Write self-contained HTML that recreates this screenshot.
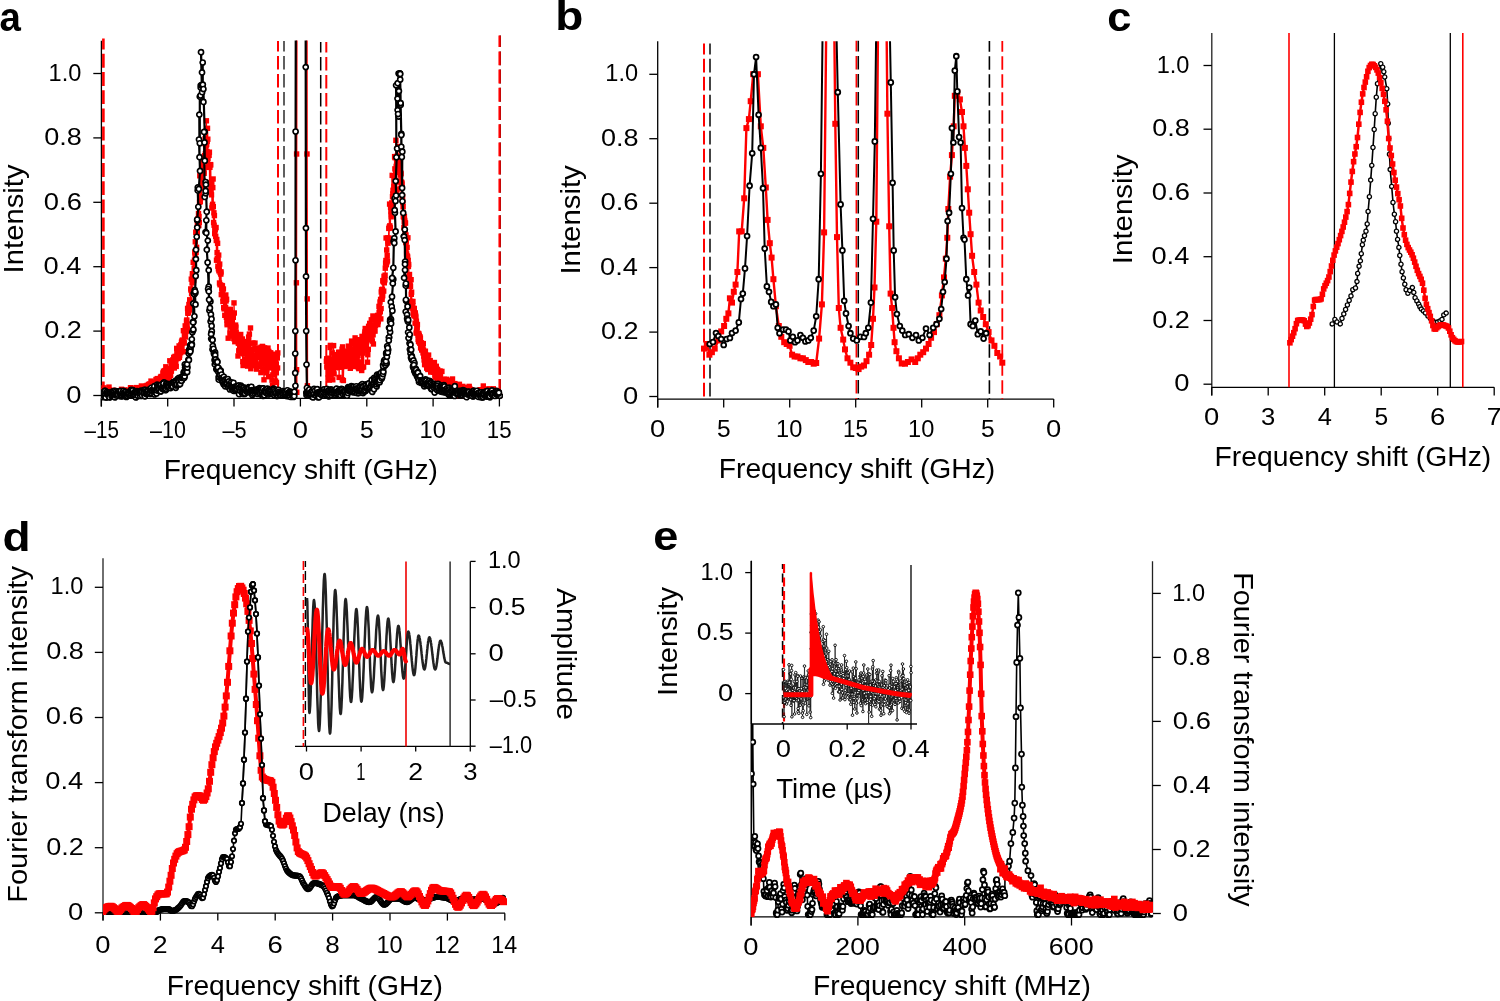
<!DOCTYPE html>
<html><head><meta charset="utf-8"><style>
html,body{margin:0;padding:0;background:#fff;}
svg{display:block;will-change:transform;}
text{font-family:"Liberation Sans", sans-serif;}
</style></head><body>
<svg width="1500" height="1001" viewBox="0 0 1500 1001">
<defs><clipPath id="clipA"><rect x="101" y="40.5" width="402" height="370"/></clipPath>
<marker id="mcA" markerUnits="userSpaceOnUse" markerWidth="8.399999999999999" markerHeight="8.399999999999999" refX="4.199999999999999" refY="4.199999999999999" overflow="visible"><circle cx="4.199999999999999" cy="4.199999999999999" r="2.55" fill="#fff" stroke="#000" stroke-width="1.65"/></marker>
<marker id="msA" markerUnits="userSpaceOnUse" markerWidth="5.4" markerHeight="5.4" refX="2.7" refY="2.7" overflow="visible"><rect width="5.4" height="5.4" fill="#f00"/></marker>
<clipPath id="clipB"><rect x="657" y="41.2" width="400" height="365"/></clipPath>
<marker id="mcB" markerUnits="userSpaceOnUse" markerWidth="8.5" markerHeight="8.5" refX="4.25" refY="4.25" overflow="visible"><circle cx="4.25" cy="4.25" r="2.45" fill="#fff" stroke="#000" stroke-width="1.8"/></marker>
<marker id="msB" markerUnits="userSpaceOnUse" markerWidth="6.0" markerHeight="6.0" refX="3.0" refY="3.0" overflow="visible"><rect width="6.0" height="6.0" fill="#f00"/></marker>
<clipPath id="clipC"><rect x="1211" y="33" width="285" height="355"/></clipPath>
<marker id="mcC" markerUnits="userSpaceOnUse" markerWidth="6.800000000000001" markerHeight="6.800000000000001" refX="3.4000000000000004" refY="3.4000000000000004" overflow="visible"><circle cx="3.4000000000000004" cy="3.4000000000000004" r="2.1" fill="#fff" stroke="#000" stroke-width="1.3"/></marker>
<marker id="msC" markerUnits="userSpaceOnUse" markerWidth="5.6" markerHeight="5.6" refX="2.8" refY="2.8" overflow="visible"><rect width="5.6" height="5.6" fill="#f00"/></marker>
<clipPath id="clipD"><rect x="103" y="558" width="404" height="357"/></clipPath>
<marker id="mcD" markerUnits="userSpaceOnUse" markerWidth="8.0" markerHeight="8.0" refX="4.0" refY="4.0" overflow="visible"><circle cx="4.0" cy="4.0" r="2.2" fill="#fff" stroke="#000" stroke-width="1.8"/></marker>
<marker id="msD" markerUnits="userSpaceOnUse" markerWidth="7.0" markerHeight="7.0" refX="3.5" refY="3.5" overflow="visible"><rect width="7.0" height="7.0" fill="#f00"/></marker>
<clipPath id="clipE"><rect x="751" y="561" width="402" height="362"/></clipPath>
<marker id="mcE" markerUnits="userSpaceOnUse" markerWidth="8.5" markerHeight="8.5" refX="4.25" refY="4.25" overflow="visible"><circle cx="4.25" cy="4.25" r="2.5" fill="#fff" stroke="#000" stroke-width="1.75"/></marker>
<marker id="msE" markerUnits="userSpaceOnUse" markerWidth="6.6" markerHeight="6.6" refX="3.3" refY="3.3" overflow="visible"><rect width="6.6" height="6.6" fill="#f00"/></marker>
<clipPath id="clipEI"><rect x="752" y="556" width="165" height="168"/></clipPath>
<marker id="mcEI" markerUnits="userSpaceOnUse" markerWidth="4.4" markerHeight="4.4" refX="2.2" refY="2.2" overflow="visible"><circle cx="2.2" cy="2.2" r="1.3" fill="#fff" stroke="#000" stroke-width="0.9"/></marker></defs>
<rect width="1500" height="1001" fill="#fff"/>
<text x="-0.39" y="30.5" font-size="40.5" font-weight="bold" textLength="21.37" lengthAdjust="spacingAndGlyphs">a</text>
<text x="555.28" y="30.2" font-size="40.5" font-weight="bold" textLength="28.10" lengthAdjust="spacingAndGlyphs">b</text>
<text x="1107.19" y="30.5" font-size="40.5" font-weight="bold" textLength="24.18" lengthAdjust="spacingAndGlyphs">c</text>
<text x="2.51" y="550.6" font-size="40.5" font-weight="bold" textLength="28.10" lengthAdjust="spacingAndGlyphs">d</text>
<text x="653.33" y="549.9" font-size="40.5" font-weight="bold" textLength="25.09" lengthAdjust="spacingAndGlyphs">e</text>
<line x1="101.4" y1="40.8" x2="101.4" y2="406.5" stroke="#000" stroke-width="1.3" />
<line x1="101.4" y1="398.3" x2="500" y2="398.3" stroke="#000" stroke-width="1.3" />
<line x1="93.3" y1="395.5" x2="101.4" y2="395.5" stroke="#000" stroke-width="1.3" />
<text x="66.24" y="402.8" font-size="23.5" textLength="15.22" lengthAdjust="spacingAndGlyphs">0</text>
<line x1="93.3" y1="331.1" x2="101.4" y2="331.1" stroke="#000" stroke-width="1.3" />
<text x="44.25" y="338.4" font-size="23.5" textLength="37.59" lengthAdjust="spacingAndGlyphs">0.2</text>
<line x1="93.3" y1="266.7" x2="101.4" y2="266.7" stroke="#000" stroke-width="1.3" />
<text x="43.44" y="274.0" font-size="23.5" textLength="37.83" lengthAdjust="spacingAndGlyphs">0.4</text>
<line x1="93.3" y1="202.3" x2="101.4" y2="202.3" stroke="#000" stroke-width="1.3" />
<text x="43.84" y="209.6" font-size="23.5" textLength="38.02" lengthAdjust="spacingAndGlyphs">0.6</text>
<line x1="93.3" y1="137.9" x2="101.4" y2="137.9" stroke="#000" stroke-width="1.3" />
<text x="44.25" y="145.2" font-size="23.5" textLength="37.59" lengthAdjust="spacingAndGlyphs">0.8</text>
<line x1="93.3" y1="73.5" x2="101.4" y2="73.5" stroke="#000" stroke-width="1.3" />
<text x="48.64" y="80.8" font-size="23.5" textLength="32.78" lengthAdjust="spacingAndGlyphs">1.0</text>
<line x1="101.3" y1="398.3" x2="101.3" y2="406.5" stroke="#000" stroke-width="1.3" />
<text x="84.55" y="437.5" font-size="23.5" textLength="34.44" lengthAdjust="spacingAndGlyphs">–15</text>
<line x1="167.7" y1="398.3" x2="167.7" y2="406.5" stroke="#000" stroke-width="1.3" />
<text x="150.10" y="437.5" font-size="23.5" textLength="35.85" lengthAdjust="spacingAndGlyphs">–10</text>
<line x1="234" y1="398.3" x2="234" y2="406.5" stroke="#000" stroke-width="1.3" />
<text x="222.50" y="437.5" font-size="23.5" textLength="24.15" lengthAdjust="spacingAndGlyphs">–5</text>
<line x1="300.4" y1="398.3" x2="300.4" y2="406.5" stroke="#000" stroke-width="1.3" />
<text x="292.69" y="437.5" font-size="23.5" textLength="15.22" lengthAdjust="spacingAndGlyphs">0</text>
<line x1="366.8" y1="398.3" x2="366.8" y2="406.5" stroke="#000" stroke-width="1.3" />
<text x="359.95" y="437.5" font-size="23.5" textLength="13.66" lengthAdjust="spacingAndGlyphs">5</text>
<line x1="433.1" y1="398.3" x2="433.1" y2="406.5" stroke="#000" stroke-width="1.3" />
<text x="419.54" y="437.5" font-size="23.5" textLength="26.25" lengthAdjust="spacingAndGlyphs">10</text>
<line x1="499.4" y1="398.3" x2="499.4" y2="406.5" stroke="#000" stroke-width="1.3" />
<text x="486.79" y="437.5" font-size="23.5" textLength="24.74" lengthAdjust="spacingAndGlyphs">15</text>
<text x="300.8" y="479.1" font-size="28" text-anchor="middle" textLength="274.3" lengthAdjust="spacingAndGlyphs" fill="#000">Frequency shift (GHz)</text>
<text x="23.1" y="218.9" font-size="28" text-anchor="middle" transform="rotate(-90 23.1 218.9)" textLength="109" lengthAdjust="spacingAndGlyphs" fill="#000">Intensity</text>
<line x1="657.7" y1="41.2" x2="657.7" y2="407.6" stroke="#000" stroke-width="1.3" />
<line x1="657.7" y1="399.1" x2="1053.7" y2="399.1" stroke="#000" stroke-width="1.3" />
<line x1="649.3" y1="396.5" x2="657.7" y2="396.5" stroke="#000" stroke-width="1.3" />
<text x="622.94" y="403.5" font-size="23.5" textLength="15.22" lengthAdjust="spacingAndGlyphs">0</text>
<line x1="649.3" y1="332.1" x2="657.7" y2="332.1" stroke="#000" stroke-width="1.3" />
<text x="600.95" y="339.1" font-size="23.5" textLength="37.59" lengthAdjust="spacingAndGlyphs">0.2</text>
<line x1="649.3" y1="267.6" x2="657.7" y2="267.6" stroke="#000" stroke-width="1.3" />
<text x="600.14" y="274.6" font-size="23.5" textLength="37.83" lengthAdjust="spacingAndGlyphs">0.4</text>
<line x1="649.3" y1="203.2" x2="657.7" y2="203.2" stroke="#000" stroke-width="1.3" />
<text x="600.54" y="210.2" font-size="23.5" textLength="38.02" lengthAdjust="spacingAndGlyphs">0.6</text>
<line x1="649.3" y1="138.7" x2="657.7" y2="138.7" stroke="#000" stroke-width="1.3" />
<text x="600.95" y="145.7" font-size="23.5" textLength="37.59" lengthAdjust="spacingAndGlyphs">0.8</text>
<line x1="649.3" y1="74.3" x2="657.7" y2="74.3" stroke="#000" stroke-width="1.3" />
<text x="605.34" y="81.3" font-size="23.5" textLength="32.78" lengthAdjust="spacingAndGlyphs">1.0</text>
<line x1="657.7" y1="399.1" x2="657.7" y2="407.6" stroke="#000" stroke-width="1.3" />
<text x="649.99" y="436.7" font-size="23.5" textLength="15.22" lengthAdjust="spacingAndGlyphs">0</text>
<line x1="723.7" y1="399.1" x2="723.7" y2="407.6" stroke="#000" stroke-width="1.3" />
<text x="716.90" y="436.7" font-size="23.5" textLength="13.66" lengthAdjust="spacingAndGlyphs">5</text>
<line x1="789.7" y1="399.1" x2="789.7" y2="407.6" stroke="#000" stroke-width="1.3" />
<text x="776.14" y="436.7" font-size="23.5" textLength="26.25" lengthAdjust="spacingAndGlyphs">10</text>
<line x1="855.7" y1="399.1" x2="855.7" y2="407.6" stroke="#000" stroke-width="1.3" />
<text x="843.04" y="436.7" font-size="23.5" textLength="24.74" lengthAdjust="spacingAndGlyphs">15</text>
<line x1="921.7" y1="399.1" x2="921.7" y2="407.6" stroke="#000" stroke-width="1.3" />
<text x="908.14" y="436.7" font-size="23.5" textLength="26.25" lengthAdjust="spacingAndGlyphs">10</text>
<line x1="987.7" y1="399.1" x2="987.7" y2="407.6" stroke="#000" stroke-width="1.3" />
<text x="980.90" y="436.7" font-size="23.5" textLength="13.66" lengthAdjust="spacingAndGlyphs">5</text>
<line x1="1053.7" y1="399.1" x2="1053.7" y2="407.6" stroke="#000" stroke-width="1.3" />
<text x="1045.99" y="436.7" font-size="23.5" textLength="15.22" lengthAdjust="spacingAndGlyphs">0</text>
<text x="857" y="478.2" font-size="28" text-anchor="middle" textLength="276.6" lengthAdjust="spacingAndGlyphs" fill="#000">Frequency shift (GHz)</text>
<text x="580" y="219.9" font-size="28" text-anchor="middle" transform="rotate(-90 580 219.9)" textLength="109.4" lengthAdjust="spacingAndGlyphs" fill="#000">Intensity</text>
<line x1="1211.8" y1="33" x2="1211.8" y2="395.5" stroke="#222" stroke-width="1.3" />
<line x1="1211.8" y1="387.3" x2="1494.2" y2="387.3" stroke="#000" stroke-width="1.3" />
<line x1="1203.5" y1="384.2" x2="1211.8" y2="384.2" stroke="#000" stroke-width="1.3" />
<text x="1174.24" y="391.3" font-size="23.5" textLength="15.22" lengthAdjust="spacingAndGlyphs">0</text>
<line x1="1203.5" y1="320.5" x2="1211.8" y2="320.5" stroke="#000" stroke-width="1.3" />
<text x="1152.25" y="327.6" font-size="23.5" textLength="37.59" lengthAdjust="spacingAndGlyphs">0.2</text>
<line x1="1203.5" y1="256.7" x2="1211.8" y2="256.7" stroke="#000" stroke-width="1.3" />
<text x="1151.44" y="263.8" font-size="23.5" textLength="37.83" lengthAdjust="spacingAndGlyphs">0.4</text>
<line x1="1203.5" y1="193" x2="1211.8" y2="193" stroke="#000" stroke-width="1.3" />
<text x="1151.84" y="200.1" font-size="23.5" textLength="38.02" lengthAdjust="spacingAndGlyphs">0.6</text>
<line x1="1203.5" y1="129.2" x2="1211.8" y2="129.2" stroke="#000" stroke-width="1.3" />
<text x="1152.25" y="136.3" font-size="23.5" textLength="37.59" lengthAdjust="spacingAndGlyphs">0.8</text>
<line x1="1203.5" y1="65.5" x2="1211.8" y2="65.5" stroke="#000" stroke-width="1.3" />
<text x="1156.64" y="72.6" font-size="23.5" textLength="32.78" lengthAdjust="spacingAndGlyphs">1.0</text>
<line x1="1211.7" y1="387.3" x2="1211.7" y2="395.5" stroke="#000" stroke-width="1.3" />
<text x="1203.99" y="424.5" font-size="23.5" textLength="15.22" lengthAdjust="spacingAndGlyphs">0</text>
<line x1="1268.2" y1="387.3" x2="1268.2" y2="395.5" stroke="#000" stroke-width="1.3" />
<text x="1261.11" y="424.5" font-size="23.5" textLength="14.26" lengthAdjust="spacingAndGlyphs">3</text>
<line x1="1324.7" y1="387.3" x2="1324.7" y2="395.5" stroke="#000" stroke-width="1.3" />
<text x="1317.66" y="424.5" font-size="23.5" textLength="14.16" lengthAdjust="spacingAndGlyphs">4</text>
<line x1="1381.2" y1="387.3" x2="1381.2" y2="395.5" stroke="#000" stroke-width="1.3" />
<text x="1374.40" y="424.5" font-size="23.5" textLength="13.66" lengthAdjust="spacingAndGlyphs">5</text>
<line x1="1437.7" y1="387.3" x2="1437.7" y2="395.5" stroke="#000" stroke-width="1.3" />
<text x="1429.93" y="424.5" font-size="23.5" textLength="15.32" lengthAdjust="spacingAndGlyphs">6</text>
<line x1="1494.2" y1="387.3" x2="1494.2" y2="395.5" stroke="#000" stroke-width="1.3" />
<text x="1486.80" y="424.5" font-size="23.5" textLength="14.59" lengthAdjust="spacingAndGlyphs">7</text>
<text x="1352.9" y="465.5" font-size="28" text-anchor="middle" textLength="276.7" lengthAdjust="spacingAndGlyphs" fill="#000">Frequency shift (GHz)</text>
<text x="1132" y="209.3" font-size="28" text-anchor="middle" transform="rotate(-90 1132 209.3)" textLength="109.8" lengthAdjust="spacingAndGlyphs" fill="#000">Intensity</text>
<line x1="103" y1="558.3" x2="103" y2="920.6" stroke="#222" stroke-width="1.3" />
<line x1="103" y1="913.2" x2="505" y2="913.2" stroke="#000" stroke-width="1.3" />
<line x1="94.8" y1="912.8" x2="103" y2="912.8" stroke="#000" stroke-width="1.3" />
<text x="68.14" y="919.6" font-size="23.5" textLength="15.22" lengthAdjust="spacingAndGlyphs">0</text>
<line x1="94.8" y1="847.7" x2="103" y2="847.7" stroke="#000" stroke-width="1.3" />
<text x="46.15" y="854.5" font-size="23.5" textLength="37.59" lengthAdjust="spacingAndGlyphs">0.2</text>
<line x1="94.8" y1="782.6" x2="103" y2="782.6" stroke="#000" stroke-width="1.3" />
<text x="45.34" y="789.4" font-size="23.5" textLength="37.83" lengthAdjust="spacingAndGlyphs">0.4</text>
<line x1="94.8" y1="717.5" x2="103" y2="717.5" stroke="#000" stroke-width="1.3" />
<text x="45.74" y="724.3" font-size="23.5" textLength="38.02" lengthAdjust="spacingAndGlyphs">0.6</text>
<line x1="94.8" y1="652.4" x2="103" y2="652.4" stroke="#000" stroke-width="1.3" />
<text x="46.15" y="659.2" font-size="23.5" textLength="37.59" lengthAdjust="spacingAndGlyphs">0.8</text>
<line x1="94.8" y1="587.3" x2="103" y2="587.3" stroke="#000" stroke-width="1.3" />
<text x="50.54" y="594.1" font-size="23.5" textLength="32.78" lengthAdjust="spacingAndGlyphs">1.0</text>
<line x1="103" y1="913.2" x2="103" y2="920.6" stroke="#000" stroke-width="1.3" />
<text x="95.29" y="952.6" font-size="23.5" textLength="15.22" lengthAdjust="spacingAndGlyphs">0</text>
<line x1="160.4" y1="913.2" x2="160.4" y2="920.6" stroke="#000" stroke-width="1.3" />
<text x="152.88" y="952.6" font-size="23.5" textLength="14.83" lengthAdjust="spacingAndGlyphs">2</text>
<line x1="217.8" y1="913.2" x2="217.8" y2="920.6" stroke="#000" stroke-width="1.3" />
<text x="210.76" y="952.6" font-size="23.5" textLength="14.16" lengthAdjust="spacingAndGlyphs">4</text>
<line x1="275.2" y1="913.2" x2="275.2" y2="920.6" stroke="#000" stroke-width="1.3" />
<text x="267.43" y="952.6" font-size="23.5" textLength="15.32" lengthAdjust="spacingAndGlyphs">6</text>
<line x1="332.6" y1="913.2" x2="332.6" y2="920.6" stroke="#000" stroke-width="1.3" />
<text x="325.39" y="952.6" font-size="23.5" textLength="14.50" lengthAdjust="spacingAndGlyphs">8</text>
<line x1="390" y1="913.2" x2="390" y2="920.6" stroke="#000" stroke-width="1.3" />
<text x="376.44" y="952.6" font-size="23.5" textLength="26.25" lengthAdjust="spacingAndGlyphs">10</text>
<line x1="447.4" y1="913.2" x2="447.4" y2="920.6" stroke="#000" stroke-width="1.3" />
<text x="434.34" y="952.6" font-size="23.5" textLength="25.52" lengthAdjust="spacingAndGlyphs">12</text>
<line x1="504.8" y1="913.2" x2="504.8" y2="920.6" stroke="#000" stroke-width="1.3" />
<text x="491.32" y="952.6" font-size="23.5" textLength="25.87" lengthAdjust="spacingAndGlyphs">14</text>
<text x="304.8" y="994.7" font-size="28" text-anchor="middle" textLength="276.1" lengthAdjust="spacingAndGlyphs" fill="#000">Frequency shift (GHz)</text>
<text x="27" y="734.4" font-size="28" text-anchor="middle" transform="rotate(-90 27 734.4)" textLength="336.6" lengthAdjust="spacingAndGlyphs" fill="#000">Fourier transform intensity</text>
<line x1="751.1" y1="561" x2="751.1" y2="925.5" stroke="#222" stroke-width="1.3" />
<line x1="1152.5" y1="561.2" x2="1152.5" y2="916.9" stroke="#222" stroke-width="1.3" />
<line x1="751.1" y1="916.9" x2="1152.5" y2="916.9" stroke="#000" stroke-width="1.3" />
<line x1="1152.5" y1="913.5" x2="1160.8" y2="913.5" stroke="#000" stroke-width="1.3" />
<text x="1172.84" y="920.7" font-size="23.5" textLength="15.22" lengthAdjust="spacingAndGlyphs">0</text>
<line x1="1152.5" y1="849.5" x2="1160.8" y2="849.5" stroke="#000" stroke-width="1.3" />
<text x="1172.85" y="856.7" font-size="23.5" textLength="37.59" lengthAdjust="spacingAndGlyphs">0.2</text>
<line x1="1152.5" y1="785.5" x2="1160.8" y2="785.5" stroke="#000" stroke-width="1.3" />
<text x="1172.84" y="792.7" font-size="23.5" textLength="37.83" lengthAdjust="spacingAndGlyphs">0.4</text>
<line x1="1152.5" y1="721.4" x2="1160.8" y2="721.4" stroke="#000" stroke-width="1.3" />
<text x="1172.84" y="728.6" font-size="23.5" textLength="38.02" lengthAdjust="spacingAndGlyphs">0.6</text>
<line x1="1152.5" y1="657.4" x2="1160.8" y2="657.4" stroke="#000" stroke-width="1.3" />
<text x="1172.85" y="664.6" font-size="23.5" textLength="37.59" lengthAdjust="spacingAndGlyphs">0.8</text>
<line x1="1152.5" y1="593.4" x2="1160.8" y2="593.4" stroke="#000" stroke-width="1.3" />
<text x="1172.24" y="600.6" font-size="23.5" textLength="32.78" lengthAdjust="spacingAndGlyphs">1.0</text>
<line x1="751.1" y1="916.9" x2="751.1" y2="925.5" stroke="#000" stroke-width="1.3" />
<text x="743.39" y="954.5" font-size="23.5" textLength="15.22" lengthAdjust="spacingAndGlyphs">0</text>
<line x1="857.9" y1="916.9" x2="857.9" y2="925.5" stroke="#000" stroke-width="1.3" />
<text x="835.38" y="954.5" font-size="23.5" textLength="44.42" lengthAdjust="spacingAndGlyphs">200</text>
<line x1="964.7" y1="916.9" x2="964.7" y2="925.5" stroke="#000" stroke-width="1.3" />
<text x="942.63" y="954.5" font-size="23.5" textLength="44.37" lengthAdjust="spacingAndGlyphs">400</text>
<line x1="1071.5" y1="916.9" x2="1071.5" y2="925.5" stroke="#000" stroke-width="1.3" />
<text x="1048.77" y="954.5" font-size="23.5" textLength="44.84" lengthAdjust="spacingAndGlyphs">600</text>
<text x="951.9" y="995.3" font-size="28" text-anchor="middle" textLength="277.8" lengthAdjust="spacingAndGlyphs" fill="#000">Frequency shift (MHz)</text>
<text x="1234" y="739.4" font-size="28" text-anchor="middle" transform="rotate(90 1234 739.4)" textLength="334.3" lengthAdjust="spacingAndGlyphs" fill="#000">Fourier transform intensity</text>
<line x1="103.4" y1="38.4" x2="103.4" y2="398" stroke="#f00" stroke-width="2.6" stroke-dasharray="13.9 4.3" stroke-dashoffset="2.8"/>
<line x1="500.2" y1="35.5" x2="500.2" y2="398" stroke="#000" stroke-width="1.4" stroke-dasharray="13.9 4.3" stroke-dashoffset="2.3"/>
<line x1="499.6" y1="35.5" x2="499.6" y2="398" stroke="#f00" stroke-width="2.3" stroke-dasharray="13.9 4.3" stroke-dashoffset="2.3"/>
<line x1="278.0" y1="41" x2="278.0" y2="398" stroke="#f00" stroke-width="2.0" stroke-dasharray="13.5 4.5" stroke-dashoffset="3.0"/>
<line x1="284.0" y1="41" x2="284.0" y2="398" stroke="#444" stroke-width="1.7" stroke-dasharray="13.5 4.5" stroke-dashoffset="3.0"/>
<line x1="320.7" y1="42" x2="320.7" y2="398" stroke="#000" stroke-width="1.5" stroke-dasharray="13.5 4.5" stroke-dashoffset="3.0"/>
<line x1="326.3" y1="42" x2="326.3" y2="398" stroke="#f00" stroke-width="2.0" stroke-dasharray="13.5 4.5" stroke-dashoffset="3.0"/>
<polyline points="101.3,395.5 101.6,390.8 101.9,395.5 102.1,394.8 102.4,394.3 102.7,395.5 102.9,395.5 103.2,392.4 103.5,393.1 103.7,395.5 104.0,387.9 104.3,391.5 104.5,395.5 104.8,391.7 105.1,395.3 105.3,394.2 105.6,392.0 105.9,395.5 106.1,392.5 106.4,390.3 106.7,390.5 106.9,394.8 107.2,391.6 107.5,395.5 107.7,394.4 108.0,392.8 108.3,395.5 108.5,394.2 108.8,389.5 109.0,387.1 109.3,391.9 109.6,391.8 109.8,395.5 110.1,395.5 110.4,395.5 110.6,392.5 110.9,392.0 111.2,395.5 111.4,395.5 111.7,393.3 112.0,393.1 112.2,394.3 112.5,390.6 112.8,394.2 113.0,394.1 113.3,395.5 113.6,393.5 113.8,390.3 114.1,393.7 114.4,393.7 114.6,392.7 114.9,393.1 115.2,392.5 115.4,392.4 115.7,392.2 115.9,395.5 116.2,393.0 116.5,395.5 116.7,393.1 117.0,395.5 117.3,394.0 117.5,392.5 117.8,394.9 118.1,393.5 118.3,395.5 118.6,395.5 118.9,391.9 119.1,395.5 119.4,392.0 119.7,395.5 119.9,395.5 120.2,395.5 120.5,393.6 120.7,392.2 121.0,395.5 121.3,394.1 121.5,389.3 121.8,394.4 122.1,395.5 122.3,392.5 122.6,394.1 122.8,395.4 123.1,395.5 123.4,391.3 123.6,395.0 123.9,393.4 124.2,395.5 124.4,390.0 124.7,391.4 125.0,390.8 125.2,393.7 125.5,392.1 125.8,390.9 126.0,390.6 126.3,392.4 126.6,393.4 126.8,394.2 127.1,395.2 127.4,395.5 127.6,392.2 127.9,393.8 128.2,395.5 128.4,393.5 128.7,390.2 129.0,393.8 129.2,395.5 129.5,393.3 129.7,390.8 130.0,392.4 130.3,394.0 130.5,387.9 130.8,387.7 131.1,393.1 131.3,390.6 131.6,391.7 131.9,390.6 132.1,388.8 132.4,390.4 132.7,392.4 132.9,394.3 133.2,394.7 133.5,392.6 133.7,389.3 134.0,391.6 134.3,392.2 134.5,391.6 134.8,392.2 135.1,390.8 135.3,395.2 135.6,395.5 135.9,393.3 136.1,395.2 136.4,387.6 136.6,392.4 136.9,392.6 137.2,395.5 137.4,391.0 137.7,393.4 138.0,388.6 138.2,389.3 138.5,393.7 138.8,390.4 139.0,395.5 139.3,393.2 139.6,387.9 139.8,389.1 140.1,390.7 140.4,391.2 140.6,395.0 140.9,394.8 141.2,390.3 141.4,386.0 141.7,395.5 142.0,389.0 142.2,389.0 142.5,388.0 142.8,392.9 143.0,391.9 143.3,390.2 143.5,393.1 143.8,393.6 144.1,392.6 144.3,390.2 144.6,388.9 144.9,389.9 145.1,389.5 145.4,391.6 145.7,391.6 145.9,386.3 146.2,389.5 146.5,389.5 146.7,386.5 147.0,385.6 147.3,385.4 147.5,387.7 147.8,388.9 148.1,387.8 148.3,388.0 148.6,384.4 148.9,387.5 149.1,386.4 149.4,388.1 149.7,384.0 149.9,393.7 150.2,386.6 150.4,385.4 150.7,390.8 151.0,381.1 151.2,387.6 151.5,387.5 151.8,390.0 152.0,384.2 152.3,385.9 152.6,388.2 152.8,385.6 153.1,384.1 153.4,382.4 153.6,385.2 153.9,388.5 154.2,387.2 154.4,392.2 154.7,387.4 155.0,382.8 155.2,383.5 155.5,385.0 155.8,385.5 156.0,379.5 156.3,383.3 156.6,381.2 156.8,382.5 157.1,385.6 157.3,378.6 157.6,387.0 157.9,386.6 158.1,384.1 158.4,384.8 158.7,384.1 158.9,384.0 159.2,378.8 159.5,381.5 159.7,380.3 160.0,386.2 160.3,383.7 160.5,377.3 160.8,384.3 161.1,376.5 161.3,383.3 161.6,378.8 161.9,382.2 162.1,378.6 162.4,381.9 162.7,379.6 162.9,373.0 163.2,379.4 163.5,371.2 163.7,379.1 164.0,381.2 164.2,376.8 164.5,378.1 164.8,370.6 165.0,373.2 165.3,371.8 165.6,373.4 165.8,366.8 166.1,372.2 166.4,372.7 166.6,377.0 166.9,377.0 167.2,372.9 167.4,369.7 167.7,368.9 168.0,375.7 168.2,370.2 168.5,371.0 168.8,375.3 169.0,369.1 169.3,378.7 169.6,369.2 169.8,360.8 170.1,373.0 170.4,368.8 170.6,375.4 170.9,370.8 171.2,364.8 171.4,371.1 171.7,366.9 171.9,367.6 172.2,367.2 172.5,364.6 172.7,363.0 173.0,359.7 173.3,360.7 173.5,365.6 173.8,357.4 174.1,357.5 174.3,368.0 174.6,358.7 174.9,357.5 175.1,356.4 175.4,357.5 175.7,364.3 175.9,359.6 176.2,366.4 176.5,358.0 176.7,348.4 177.0,353.3 177.3,352.0 177.5,357.0 177.8,358.5 178.1,358.1 178.3,352.4 178.6,355.7 178.8,354.3 179.1,345.9 179.4,357.3 179.6,355.2 179.9,350.9 180.2,348.4 180.4,347.7 180.7,352.7 181.0,344.7 181.2,345.3 181.5,342.2 181.8,348.1 182.0,341.0 182.3,340.2 182.6,343.4 182.8,340.4 183.1,341.1 183.4,330.7 183.6,351.7 183.9,342.5 184.2,342.8 184.4,335.0 184.7,335.4 185.0,332.9 185.2,325.9 185.5,337.0 185.7,331.7 186.0,327.1 186.3,331.1 186.5,321.2 186.8,320.0 187.1,324.4 187.3,329.0 187.6,308.4 187.9,313.3 188.1,312.0 188.4,312.4 188.7,311.2 188.9,304.5 189.2,307.9 189.5,309.9 189.7,299.8 190.0,302.0 190.3,305.4 190.5,304.3 190.8,288.9 191.1,290.2 191.3,279.1 191.6,293.7 191.9,293.1 192.1,282.9 192.4,273.7 192.6,276.8 192.9,275.5 193.2,262.3 193.4,279.1 193.7,280.5 194.0,274.1 194.2,268.2 194.5,260.0 194.8,252.0 195.0,254.0 195.3,241.8 195.6,258.3 195.8,232.3 196.1,252.3 196.4,232.0 196.6,247.3 196.9,232.8 197.2,232.1 197.4,224.5 197.7,219.0 198.0,224.7 198.2,220.0 198.5,213.6 198.8,225.5 199.0,216.5 199.3,222.3 199.5,202.3 199.8,175.8 200.1,187.8 200.3,201.6 200.6,196.7 200.9,175.1 201.1,187.9 201.4,197.6 201.7,188.2 201.9,185.7 202.2,182.6 202.5,160.2 202.7,164.7 203.0,180.8 203.3,167.3 203.5,172.4 203.8,171.4 204.1,173.3 204.3,131.9 204.6,155.7 204.9,143.6 205.1,138.9 205.4,153.7 205.7,141.6 205.9,141.2 206.2,145.0 206.4,120.8 206.7,144.6 207.0,151.5 207.2,141.4 207.5,128.3 207.8,139.2 208.0,158.7 208.3,164.9 208.6,167.4 208.8,166.0 209.1,155.4 209.4,152.2 209.6,191.4 209.9,167.3 210.2,182.6 210.4,164.6 210.7,164.9 211.0,187.0 211.2,186.2 211.5,194.8 211.8,183.2 212.0,208.0 212.3,205.8 212.6,204.3 212.8,187.6 213.1,179.0 213.3,206.7 213.6,222.5 213.9,212.8 214.1,225.2 214.4,215.6 214.7,233.7 214.9,229.8 215.2,229.6 215.5,227.9 215.7,236.3 216.0,227.5 216.3,240.5 216.5,260.2 216.8,239.5 217.1,252.6 217.3,258.4 217.6,243.3 217.9,266.2 218.1,260.2 218.4,268.8 218.7,255.1 218.9,270.8 219.2,268.5 219.5,283.0 219.7,264.1 220.0,284.7 220.2,272.3 220.5,272.9 220.8,274.1 221.0,271.9 221.3,294.6 221.6,285.4 221.8,289.0 222.1,288.7 222.4,285.8 222.6,293.9 222.9,301.5 223.2,298.2 223.4,289.0 223.7,307.7 224.0,301.0 224.2,308.9 224.5,297.0 224.8,315.3 225.0,308.3 225.3,308.0 225.6,307.5 225.8,295.0 226.1,300.9 226.4,317.3 226.6,299.3 226.9,320.0 227.1,324.7 227.4,323.3 227.7,313.5 227.9,311.1 228.2,338.2 228.5,313.6 228.7,321.1 229.0,312.6 229.3,323.6 229.5,312.2 229.8,316.1 230.1,333.1 230.3,309.3 230.6,321.5 230.9,317.3 231.1,313.1 231.4,334.5 231.7,326.9 231.9,334.3 232.2,336.0 232.5,325.6 232.7,325.6 233.0,317.2 233.3,317.3 233.5,330.7 233.8,338.7 234.0,302.9 234.3,313.0 234.6,333.8 234.8,341.7 235.1,337.8 235.4,332.1 235.6,325.1 235.9,327.1 236.2,332.4 236.4,338.9 236.7,335.8 237.0,340.5 237.2,337.6 237.5,339.6 237.8,334.6 238.0,356.0 238.3,343.1 238.6,343.1 238.8,350.8 239.1,343.0 239.4,350.9 239.6,348.0 239.9,345.2 240.2,345.3 240.4,348.4 240.7,334.5 241.0,342.6 241.2,341.9 241.5,343.0 241.7,351.0 242.0,353.2 242.3,339.0 242.5,349.3 242.8,361.6 243.1,365.5 243.3,345.5 243.6,353.8 243.9,348.5 244.1,352.8 244.4,351.9 244.7,350.3 244.9,359.5 245.2,349.6 245.5,341.5 245.7,344.2 246.0,364.6 246.3,361.5 246.5,361.7 246.8,353.0 247.1,344.2 247.3,348.8 247.6,366.1 247.9,351.5 248.1,345.5 248.4,356.0 248.6,337.1 248.9,358.1 249.2,343.5 249.4,334.1 249.7,363.8 250.0,356.3 250.2,349.2 250.5,328.0 250.8,368.7 251.0,349.8 251.3,352.3 251.6,358.2 251.8,361.7 252.1,359.4 252.4,357.7 252.6,365.7 252.9,343.0 253.2,364.7 253.4,359.4 253.7,361.4 254.0,359.6 254.2,355.7 254.5,362.7 254.8,358.6 255.0,343.1 255.3,348.6 255.5,359.5 255.8,350.1 256.1,363.6 256.3,355.8 256.6,369.1 256.9,367.0 257.1,364.9 257.4,348.3 257.7,356.4 257.9,354.0 258.2,357.3 258.5,355.7 258.7,355.4 259.0,352.8 259.3,357.7 259.5,366.3 259.8,365.4 260.1,349.7 260.3,348.3 260.6,355.1 260.9,372.6 261.1,347.3 261.4,357.3 261.7,360.5 261.9,359.9 262.2,363.1 262.4,346.4 262.7,347.1 263.0,368.8 263.2,362.0 263.5,358.2 263.8,350.7 264.0,379.8 264.3,353.6 264.6,347.9 264.8,363.6 265.1,361.5 265.4,351.5 265.6,358.4 265.9,371.9 266.2,370.7 266.4,369.7 266.7,372.8 267.0,361.8 267.2,365.9 267.5,361.6 267.8,356.5 268.0,348.1 268.3,360.5 268.6,376.7 268.8,351.4 269.1,363.3 269.3,353.3 269.6,366.0 269.9,360.2 270.1,363.7 270.4,362.9 270.7,352.8 270.9,367.9 271.2,361.6 271.5,361.2 271.7,366.0 272.0,380.1 272.3,360.4 272.5,385.2 272.8,374.9 273.1,366.8 273.3,360.0 273.6,356.7 273.9,357.0 274.1,358.8 274.4,366.3 274.7,354.2 274.9,365.7 275.2,355.0 275.5,381.0 275.7,371.1 276.0,368.2 276.2,363.9 276.5,382.4 276.8,357.6 277.0,356.3 277.3,357.9 277.6,368.0 277.8,352.9" fill="none" stroke="#f00" stroke-width="1.3" stroke-linejoin="round" marker-start="url(#msA)" marker-mid="url(#msA)" marker-end="url(#msA)" clip-path="url(#clipA)"/>
<polyline points="326.4,361.3 326.7,358.8 326.9,367.1 327.2,365.5 327.5,359.7 327.7,364.4 328.0,378.2 328.3,358.7 328.5,362.0 328.8,358.2 329.1,369.6 329.3,380.1 329.6,373.3 329.9,361.3 330.1,347.5 330.4,345.4 330.7,361.1 330.9,374.7 331.2,366.0 331.5,359.9 331.7,359.9 332.0,362.5 332.2,352.8 332.5,370.1 332.8,379.8 333.0,369.8 333.3,372.0 333.6,345.6 333.8,364.3 334.1,373.9 334.4,358.0 334.6,354.9 334.9,362.2 335.2,361.1 335.4,354.6 335.7,358.4 336.0,367.8 336.2,357.7 336.5,355.0 336.8,359.5 337.0,355.3 337.3,357.5 337.6,363.8 337.8,363.0 338.1,357.0 338.4,366.1 338.6,352.7 338.9,352.1 339.1,377.4 339.4,362.0 339.7,367.2 339.9,366.2 340.2,360.1 340.5,362.4 340.7,356.6 341.0,358.4 341.3,358.0 341.5,366.9 341.8,363.4 342.1,349.2 342.3,379.9 342.6,346.9 342.9,364.7 343.1,351.0 343.4,380.5 343.7,363.3 343.9,353.2 344.2,358.6 344.5,351.7 344.7,366.5 345.0,363.9 345.3,364.5 345.5,355.3 345.8,355.5 346.0,360.0 346.3,361.0 346.6,361.1 346.8,358.0 347.1,366.1 347.4,358.9 347.6,359.5 347.9,362.5 348.2,362.6 348.4,346.2 348.7,362.7 349.0,354.4 349.2,346.6 349.5,351.5 349.8,357.1 350.0,349.0 350.3,368.3 350.6,366.6 350.8,359.8 351.1,358.2 351.4,357.1 351.6,341.1 351.9,342.4 352.2,356.1 352.4,353.6 352.7,362.8 352.9,352.7 353.2,365.9 353.5,343.7 353.7,358.9 354.0,350.1 354.3,364.9 354.5,342.9 354.8,349.0 355.1,337.9 355.3,353.0 355.6,366.5 355.9,359.5 356.1,363.2 356.4,339.9 356.7,357.6 356.9,358.4 357.2,347.2 357.5,349.6 357.7,347.5 358.0,355.4 358.3,367.5 358.5,362.0 358.8,368.6 359.1,339.7 359.3,342.5 359.6,352.8 359.8,344.3 360.1,343.6 360.4,343.6 360.6,344.2 360.9,340.9 361.2,347.3 361.4,366.2 361.7,370.5 362.0,336.4 362.2,341.7 362.5,367.5 362.8,344.5 363.0,353.1 363.3,349.9 363.6,367.0 363.8,338.0 364.1,344.9 364.4,336.8 364.6,334.1 364.9,332.0 365.2,328.5 365.4,339.7 365.7,339.9 366.0,346.9 366.2,336.4 366.5,342.6 366.7,350.3 367.0,329.3 367.3,333.0 367.5,362.2 367.8,354.7 368.1,339.9 368.3,349.3 368.6,326.3 368.9,335.0 369.1,331.1 369.4,327.4 369.7,323.4 369.9,337.3 370.2,328.8 370.5,331.6 370.7,326.3 371.0,328.0 371.3,319.8 371.5,327.3 371.8,336.0 372.1,330.1 372.3,341.1 372.6,327.4 372.9,316.0 373.1,334.8 373.4,344.0 373.7,328.8 373.9,330.6 374.2,327.3 374.4,329.9 374.7,325.8 375.0,331.1 375.2,316.6 375.5,325.6 375.8,320.9 376.0,318.8 376.3,323.1 376.6,319.0 376.8,322.2 377.1,322.5 377.4,320.4 377.6,315.4 377.9,324.6 378.2,321.6 378.4,320.0 378.7,317.6 379.0,306.4 379.2,312.3 379.5,312.8 379.8,308.8 380.0,302.0 380.3,311.7 380.6,299.4 380.8,318.9 381.1,308.5 381.3,292.0 381.6,289.8 381.9,296.9 382.1,299.3 382.4,289.3 382.7,295.7 382.9,280.6 383.2,281.1 383.5,281.9 383.7,291.1 384.0,276.3 384.3,282.8 384.5,280.5 384.8,279.7 385.1,275.2 385.3,268.2 385.6,263.1 385.9,260.5 386.1,238.0 386.4,264.7 386.7,250.0 386.9,262.0 387.2,255.5 387.5,260.9 387.7,238.0 388.0,243.2 388.2,241.4 388.5,240.6 388.8,228.4 389.0,238.1 389.3,226.9 389.6,204.1 389.8,225.8 390.1,227.4 390.4,228.1 390.6,207.3 390.9,211.6 391.2,216.8 391.4,214.7 391.7,202.9 392.0,210.7 392.2,175.4 392.5,196.7 392.8,193.9 393.0,190.3 393.3,206.6 393.6,200.3 393.8,186.1 394.1,180.1 394.4,191.8 394.6,156.6 394.9,168.9 395.1,157.6 395.4,157.5 395.7,172.4 395.9,140.3 396.2,166.4 396.5,189.3 396.7,194.1 397.0,166.4 397.3,156.1 397.5,165.6 397.8,146.4 398.1,170.8 398.3,161.4 398.6,160.4 398.9,182.0 399.1,167.8 399.4,168.7 399.7,162.0 399.9,162.6 400.2,167.2 400.5,188.9 400.7,174.5 401.0,173.3 401.3,187.2 401.5,182.1 401.8,184.6 402.0,183.1 402.3,197.7 402.6,196.5 402.8,202.4 403.1,206.8 403.4,216.6 403.6,216.9 403.9,227.6 404.2,221.8 404.4,216.5 404.7,220.4 405.0,222.4 405.2,233.4 405.5,223.1 405.8,242.6 406.0,235.0 406.3,241.1 406.6,254.0 406.8,256.5 407.1,247.4 407.4,256.1 407.6,257.1 407.9,237.8 408.2,260.4 408.4,266.5 408.7,264.5 408.9,277.2 409.2,276.5 409.5,274.5 409.7,286.0 410.0,282.7 410.3,286.2 410.5,286.4 410.8,301.4 411.1,279.7 411.3,294.3 411.6,292.2 411.9,304.5 412.1,308.1 412.4,301.6 412.7,305.6 412.9,301.5 413.2,312.9 413.5,315.0 413.7,308.8 414.0,308.3 414.3,308.7 414.5,315.8 414.8,315.7 415.1,323.2 415.3,312.9 415.6,315.4 415.8,317.0 416.1,333.1 416.4,321.1 416.6,330.9 416.9,325.8 417.2,327.4 417.4,324.5 417.7,333.0 418.0,334.9 418.2,339.3 418.5,341.3 418.8,333.6 419.0,341.9 419.3,335.3 419.6,341.3 419.8,343.2 420.1,336.9 420.4,338.3 420.6,347.9 420.9,344.9 421.2,345.1 421.4,342.8 421.7,350.0 422.0,349.4 422.2,348.8 422.5,346.0 422.7,345.9 423.0,352.9 423.3,343.6 423.5,350.1 423.8,356.0 424.1,359.9 424.3,356.1 424.6,364.6 424.9,354.5 425.1,353.6 425.4,351.2 425.7,355.0 425.9,364.6 426.2,359.4 426.5,356.0 426.7,368.1 427.0,363.2 427.3,358.1 427.5,360.8 427.8,369.5 428.1,364.1 428.3,362.6 428.6,355.1 428.9,365.3 429.1,367.6 429.4,363.7 429.6,363.8 429.9,363.4 430.2,360.6 430.4,366.7 430.7,372.0 431.0,367.2 431.2,367.7 431.5,364.7 431.8,365.6 432.0,371.7 432.3,366.7 432.6,366.3 432.8,370.9 433.1,367.3 433.4,370.4 433.6,370.8 433.9,372.3 434.2,369.3 434.4,362.5 434.7,372.1 435.0,377.2 435.2,374.3 435.5,375.9 435.8,373.1 436.0,375.0 436.3,366.3 436.6,372.7 436.8,369.2 437.1,378.2 437.3,376.8 437.6,369.6 437.9,382.3 438.1,376.5 438.4,382.4 438.7,372.5 438.9,382.5 439.2,379.1 439.5,379.0 439.7,384.1 440.0,371.0 440.3,379.7 440.5,374.2 440.8,381.9 441.1,384.6 441.3,379.5 441.6,379.8 441.9,371.4 442.1,384.2 442.4,386.1 442.7,383.6 442.9,380.6 443.2,380.1 443.5,384.3 443.7,383.3 444.0,380.8 444.2,379.3 444.5,384.7 444.8,382.7 445.0,391.7 445.3,386.4 445.6,382.3 445.8,383.9 446.1,384.6 446.4,379.3 446.6,385.3 446.9,387.9 447.2,384.1 447.4,384.3 447.7,388.5 448.0,382.3 448.2,380.3 448.5,387.3 448.8,388.3 449.0,386.1 449.3,382.3 449.6,387.8 449.8,388.5 450.1,388.2 450.4,385.9 450.6,386.1 450.9,387.4 451.1,383.5 451.4,380.6 451.7,389.0 451.9,384.4 452.2,386.8 452.5,379.0 452.7,390.3 453.0,388.9 453.3,387.7 453.5,392.2 453.8,388.9 454.1,386.3 454.3,392.6 454.6,388.2 454.9,383.6 455.1,390.5 455.4,391.5 455.7,395.5 455.9,389.4 456.2,393.8 456.5,387.7 456.7,384.8 457.0,387.9 457.3,391.8 457.5,387.8 457.8,391.1 458.0,393.0 458.3,391.3 458.6,389.3 458.8,391.1 459.1,388.7 459.4,384.3 459.6,388.6 459.9,388.3 460.2,392.3 460.4,386.9 460.7,389.7 461.0,387.9 461.2,392.9 461.5,390.2 461.8,395.5 462.0,392.0 462.3,393.4 462.6,393.9 462.8,386.4 463.1,395.5 463.4,391.7 463.6,391.8 463.9,390.0 464.2,388.7 464.4,395.5 464.7,393.1 464.9,393.6 465.2,389.8 465.5,389.2 465.7,392.9 466.0,393.3 466.3,394.7 466.5,391.0 466.8,387.5 467.1,391.0 467.3,394.0 467.6,394.4 467.9,394.1 468.1,395.5 468.4,387.6 468.7,392.1 468.9,393.3 469.2,386.4 469.5,391.9 469.7,388.5 470.0,391.8 470.3,389.6 470.5,392.4 470.8,393.6 471.1,391.6 471.3,390.8 471.6,389.8 471.8,392.2 472.1,393.5 472.4,393.8 472.6,392.0 472.9,394.2 473.2,393.8 473.4,391.5 473.7,391.4 474.0,391.6 474.2,395.0 474.5,395.5 474.8,392.3 475.0,392.8 475.3,394.1 475.6,392.6 475.8,390.9 476.1,393.7 476.4,392.1 476.6,395.5 476.9,393.8 477.2,395.5 477.4,395.5 477.7,392.2 478.0,395.5 478.2,393.5 478.5,391.3 478.7,392.3 479.0,395.5 479.3,392.8 479.5,395.5 479.8,395.5 480.1,389.7 480.3,393.1 480.6,390.4 480.9,395.5 481.1,395.5 481.4,395.5 481.7,390.2 481.9,391.1 482.2,390.8 482.5,394.0 482.7,393.9 483.0,394.2 483.3,386.0 483.5,393.4 483.8,389.0 484.1,394.1 484.3,390.0 484.6,395.5 484.9,395.0 485.1,392.8 485.4,395.2 485.6,394.8 485.9,394.2 486.2,395.2 486.4,389.6 486.7,390.8 487.0,395.5 487.2,389.2 487.5,393.9 487.8,393.9 488.0,394.2 488.3,391.5 488.6,391.9 488.8,395.2 489.1,393.7 489.4,395.5 489.6,388.9 489.9,395.5 490.2,395.5 490.4,395.5 490.7,393.5 491.0,391.9 491.2,394.8 491.5,393.8 491.8,394.7 492.0,390.4 492.3,393.2 492.5,395.5 492.8,390.0 493.1,393.0 493.3,388.8 493.6,395.5 493.9,395.2 494.1,394.3 494.4,395.5 494.7,394.9 494.9,390.6 495.2,392.0 495.5,395.5 495.7,390.5 496.0,392.9 496.3,391.7 496.5,393.8 496.8,393.4 497.1,393.8 497.3,393.8 497.6,395.5 497.9,391.2 498.1,393.3 498.4,392.9 498.7,393.0 498.9,394.7 499.2,394.1 499.4,395.5" fill="none" stroke="#f00" stroke-width="1.3" stroke-linejoin="round" marker-start="url(#msA)" marker-mid="url(#msA)" marker-end="url(#msA)" clip-path="url(#clipA)"/>
<polyline points="296.8,392.3 296.6,369.7 296.4,282.8 296.6,154.0 296.9,-23.1 297.2,-87.5 306.6,-87.5 306.9,9.1 307.0,154.0 307.2,298.9 307.4,385.8" fill="none" stroke="#f00" stroke-width="1.6" stroke-linejoin="round" marker-start="url(#msA)" marker-mid="url(#msA)" marker-end="url(#msA)" clip-path="url(#clipA)"/>
<polyline points="101.8,393.9 101.5,393.8 101.9,394.7 102.7,397.2 103.4,392.1 101.5,394.6 103.6,394.3 103.4,394.8 103.5,395.3 103.5,395.0 103.8,396.1 103.8,395.3 104.7,390.8 104.4,392.3 105.0,390.9 104.7,395.3 106.2,397.4 106.2,396.5 105.6,397.4 106.7,392.4 106.5,392.2 106.6,394.0 107.3,393.6 107.9,393.6 108.5,394.4 108.2,393.0 108.8,395.9 108.9,394.9 109.1,394.4 109.5,397.1 108.7,395.9 109.4,393.4 110.6,393.6 109.5,397.4 110.0,392.6 111.6,393.6 110.5,392.9 111.3,394.3 111.6,393.2 111.6,396.3 112.4,394.5 112.7,395.9 112.2,395.0 113.6,392.1 112.7,391.4 113.1,394.0 113.5,394.8 113.9,392.8 113.6,393.3 114.5,390.8 113.6,393.0 114.7,397.4 114.7,394.0 115.1,394.6 115.6,395.4 116.1,393.8 115.9,393.9 116.5,394.6 116.0,391.5 116.8,393.4 117.7,393.3 117.2,393.7 117.7,391.9 118.0,395.9 118.7,391.9 118.8,394.4 118.8,391.5 118.7,391.6 119.5,393.1 118.3,394.7 120.1,393.5 119.8,393.3 120.7,396.4 120.7,394.5 121.6,395.1 120.9,391.6 120.6,391.0 121.8,395.1 121.8,394.8 122.3,396.1 123.1,393.4 122.4,392.5 123.4,390.8 123.8,396.0 124.1,392.3 123.0,394.1 124.2,395.0 124.1,394.4 124.6,395.1 124.6,393.0 125.1,393.8 125.9,391.8 126.5,394.7 126.3,397.0 125.7,395.5 127.1,393.2 126.2,396.3 126.9,395.0 127.9,392.8 127.3,396.1 128.2,392.3 128.0,393.1 127.9,394.7 128.8,393.8 128.7,394.5 130.0,394.3 130.3,394.2 130.4,393.6 129.5,393.8 131.1,394.9 130.7,395.3 131.0,390.0 131.1,395.5 131.1,393.8 131.6,391.5 132.3,391.9 132.8,394.8 132.6,390.1 132.7,390.5 132.7,394.0 133.0,395.6 134.2,392.4 134.0,393.8 134.1,394.0 133.5,394.8 133.7,394.5 135.1,393.1 135.3,391.8 135.8,397.0 135.7,397.4 135.5,391.7 135.3,394.8 135.9,392.1 135.6,393.1 137.0,391.1 137.4,391.7 138.1,393.7 136.9,393.5 137.3,392.7 138.5,391.9 138.6,394.3 137.8,395.8 138.7,393.0 139.3,393.2 139.4,393.4 140.0,394.8 140.1,392.0 140.1,396.0 140.8,393.8 140.8,390.7 141.7,394.9 140.7,392.2 141.6,392.1 141.6,392.1 142.1,395.8 142.6,391.0 143.0,392.5 142.0,391.9 143.8,392.2 143.8,392.6 144.0,390.5 144.1,390.0 144.8,395.9 144.8,393.9 144.0,392.8 144.8,396.3 145.3,389.8 145.5,393.7 145.7,391.3 146.5,391.9 145.9,392.6 146.4,394.0 146.5,392.8 147.2,391.9 147.7,390.6 147.4,392.3 148.2,392.6 148.0,392.3 149.2,389.4 147.8,391.2 149.1,392.9 149.9,393.9 149.5,392.3 149.4,393.1 149.8,392.2 150.7,388.8 150.4,390.0 151.4,390.7 151.2,390.3 151.2,387.8 151.6,393.1 152.2,390.0 152.8,391.2 152.2,390.4 152.3,390.5 152.5,391.1 153.6,389.4 154.5,394.5 153.6,389.7 154.5,388.9 154.2,391.9 155.1,391.9 154.3,386.2 155.5,391.6 154.9,390.5 155.4,391.1 156.2,390.7 156.2,390.8 156.5,393.5 157.1,384.6 157.2,390.6 158.0,388.3 158.0,389.1 157.5,386.2 158.1,387.4 158.1,386.4 158.5,386.2 159.8,386.8 158.8,388.3 160.1,386.5 160.4,391.4 161.3,386.3 160.3,386.6 160.6,387.3 160.9,390.6 160.9,385.0 162.1,389.0 162.5,386.3 160.8,391.3 162.0,387.8 162.9,388.7 162.2,388.8 162.6,388.5 163.2,383.3 163.4,387.0 163.6,386.2 163.9,382.3 165.1,389.8 163.4,383.4 164.5,387.4 164.5,387.9 165.4,387.3 165.4,390.2 166.1,389.6 166.1,388.7 167.4,387.4 166.0,384.5 166.7,383.7 167.6,386.7 167.2,385.1 167.8,384.9 167.2,386.2 168.6,385.2 168.4,386.9 169.0,384.3 168.6,386.0 169.0,385.3 169.1,384.8 170.6,384.9 169.2,386.8 170.5,388.1 170.7,385.2 171.5,386.2 171.3,386.1 170.9,385.0 171.9,386.3 171.1,383.6 172.7,383.7 172.4,386.5 172.4,383.5 172.8,386.5 173.5,382.5 172.7,382.7 174.6,384.0 173.7,381.8 175.0,381.4 174.7,382.6 175.7,387.8 174.5,383.1 175.8,382.8 175.6,381.2 175.6,385.3 176.6,381.1 176.3,381.8 176.4,381.5 176.9,385.3 176.9,384.2 177.4,379.2 177.7,379.7 178.5,381.7 178.2,378.6 178.2,380.4 179.2,381.9 178.9,384.5 178.9,377.8 179.0,380.4 180.7,379.2 180.1,384.1 181.2,380.6 180.2,378.1 180.4,379.2 182.0,380.1 181.4,380.8 181.6,376.9 181.9,378.0 181.8,377.5 183.0,377.0 182.2,377.5 183.4,376.2 182.8,376.5 184.8,374.2 184.2,377.7 184.6,376.4 183.6,372.5 184.8,372.5 184.6,370.9 184.8,364.5 185.1,367.6 186.1,365.6 186.0,367.1 186.0,368.0 186.2,369.4 186.5,372.1 186.8,369.8 187.2,372.1 187.0,366.9 187.4,367.6 187.1,364.3 188.4,359.7 188.9,359.9 188.7,353.6 189.8,352.0 189.1,350.0 189.7,349.0 190.5,349.8 190.3,351.5 190.1,345.4 190.9,346.6 190.8,344.4 191.8,339.3 191.9,344.4 191.7,344.9 192.3,332.3 193.2,321.6 193.2,322.0 193.3,303.5 193.1,330.3 193.1,322.4 193.3,329.4 194.4,316.3 193.7,293.3 194.7,290.2 195.5,304.5 194.3,294.2 195.4,292.8 195.1,291.6 195.7,276.1 196.3,270.2 195.9,259.1 196.0,249.7 196.7,236.8 197.2,220.4 197.2,227.4 197.2,219.5 198.3,206.8 197.7,190.4 197.8,187.4 198.8,188.9 200.0,170.9 199.0,139.5 199.5,157.2 199.3,114.6 199.8,143.3 199.8,96.7 200.7,87.7 200.5,95.4 200.7,85.3 201.8,84.8 201.0,52.2 202.3,85.2 202.1,92.2 202.0,72.4 202.7,62.6 202.8,84.6 203.4,101.9 203.4,89.0 204.7,131.8 204.5,142.4 204.8,160.7 204.0,131.9 204.7,196.9 205.7,193.3 205.6,182.0 205.6,190.9 205.9,184.6 206.7,211.7 205.5,232.2 206.3,220.3 206.3,232.9 207.8,240.6 206.8,249.7 207.6,262.5 208.7,286.7 208.1,289.1 208.7,270.2 208.8,291.4 209.4,310.6 210.4,301.4 209.1,299.7 209.9,308.0 210.9,314.5 211.5,332.7 210.6,321.5 211.6,326.0 211.5,319.0 211.8,331.2 211.1,334.2 211.2,338.8 212.3,339.6 212.5,340.0 212.8,345.9 212.5,349.5 214.0,352.9 213.5,348.8 215.1,352.5 214.0,354.0 214.6,360.3 215.0,358.9 214.8,364.4 214.7,354.8 215.2,355.3 215.7,359.4 215.8,362.4 217.2,361.5 216.3,369.3 217.2,369.6 217.4,362.1 217.4,370.4 217.1,368.0 218.1,370.8 218.6,377.1 218.5,372.3 218.7,368.4 217.9,367.6 218.7,379.7 219.4,377.5 219.8,375.2 220.3,371.2 220.1,371.1 220.6,370.7 220.3,371.0 221.3,377.3 221.6,379.3 221.5,374.6 222.3,378.2 222.0,377.9 222.1,379.3 222.5,379.8 223.8,376.8 222.4,382.1 223.5,384.3 223.5,382.0 224.0,380.3 223.5,381.6 224.8,381.5 225.1,386.3 224.9,383.9 225.1,379.4 225.6,382.7 226.3,384.2 225.4,380.2 227.0,384.4 226.5,381.5 227.3,383.0 226.8,382.8 228.3,381.6 227.8,379.1 228.8,381.5 227.9,386.5 228.2,387.2 229.3,385.7 229.4,385.5 229.4,383.8 230.1,385.4 230.0,385.2 229.9,389.5 229.5,386.0 229.5,384.9 231.2,382.5 231.4,384.7 231.0,386.3 231.9,389.1 231.9,386.8 232.2,386.9 232.9,387.3 232.0,386.8 233.2,386.2 233.5,386.4 233.5,382.8 233.9,389.6 233.5,390.9 234.4,386.9 234.9,390.4 235.2,388.4 234.8,388.2 235.8,389.8 235.8,386.6 236.2,387.0 236.2,388.1 236.8,387.2 236.8,386.7 238.1,389.2 237.1,387.4 238.1,388.4 237.8,388.8 237.4,389.8 238.5,385.4 239.2,388.3 239.2,391.9 239.5,388.1 239.0,394.2 239.8,388.7 239.3,387.7 241.0,386.5 241.2,389.0 240.2,390.8 240.8,385.6 240.7,387.5 241.1,387.0 241.6,390.1 241.5,388.4 242.1,393.1 242.9,388.8 242.7,393.9 243.4,391.8 243.3,392.7 243.7,387.7 243.3,388.1 244.6,391.1 243.9,387.6 244.5,389.9 244.3,393.9 245.4,390.9 245.0,393.5 246.0,390.0 246.9,389.5 246.4,391.7 245.5,388.7 247.3,388.3 247.2,392.0 247.6,389.3 247.8,390.6 248.4,391.0 248.6,387.2 248.4,391.8 248.1,391.2 248.9,390.6 249.6,389.5 248.6,389.1 249.8,392.4 249.2,388.0 250.8,387.2 251.4,386.8 251.2,390.4 250.9,391.7 251.7,392.8 252.2,390.1 252.6,390.9 252.8,390.9 252.9,392.0 252.2,395.1 252.9,391.4 253.4,391.2 253.5,391.6 252.8,393.6 253.9,391.5 253.9,391.3 254.6,393.2 254.9,389.9 254.4,391.2 255.0,390.9 255.6,390.4 255.3,391.6 256.1,391.3 256.0,390.2 256.3,389.8 257.3,389.6 257.1,391.6 257.2,389.9 258.4,389.2 257.8,394.0 258.2,392.2 258.5,391.5 260.2,391.4 259.3,388.1 259.7,389.3 259.4,391.8 260.2,391.8 260.6,394.2 259.8,393.4 260.8,389.1 261.7,394.8 262.0,390.5 261.5,393.0 262.8,392.3 261.6,391.9 262.7,388.4 262.7,391.2 262.2,390.9 263.5,390.0 262.7,395.9 263.2,388.5 263.8,395.0 263.5,393.3 264.9,390.7 264.4,394.3 264.3,395.2 265.3,389.9 265.4,392.7 265.2,390.4 265.7,391.3 266.6,392.5 266.8,389.1 266.0,392.7 267.4,388.6 267.7,393.9 268.1,394.1 267.6,393.6 267.7,391.9 268.3,394.4 268.3,393.7 268.7,389.8 268.8,392.1 269.3,390.4 269.4,391.8 269.9,393.6 270.3,393.9 270.3,392.2 270.5,392.4 271.7,393.5 271.7,393.6 271.7,390.1 271.4,390.8 272.3,392.2 272.2,393.3 272.9,393.5 272.9,389.2 274.3,393.8 273.4,388.7 273.2,394.0 274.4,395.5 274.7,389.3 275.1,393.1 273.5,390.2 274.5,392.1 274.8,393.4 274.7,391.3 275.8,393.5 276.3,392.2 276.8,393.3 277.0,396.1 276.8,392.4 277.8,394.0 277.4,393.3 276.3,392.4 277.7,395.6 277.8,392.2 278.5,392.2 278.4,389.8 278.8,391.8 279.8,392.6 279.1,394.4 279.1,393.3 280.1,395.7 280.5,392.6 280.4,393.6 280.8,393.9 280.7,393.3 280.7,392.6 281.2,392.9 281.3,395.4 282.7,391.1 282.2,393.3 283.3,392.8 282.8,393.4 282.7,395.1 283.5,393.0 283.8,394.1 284.6,394.9 283.2,393.3 284.3,392.2 284.9,392.4 284.6,393.2 285.3,394.6 285.4,394.1 286.5,393.8 286.6,396.0 285.3,392.2 285.9,393.4 286.5,395.8 287.1,391.0 287.3,390.3 287.4,395.8 288.2,393.9 288.6,395.0 288.5,392.3 288.6,396.0 289.0,392.8 288.9,393.0 289.9,391.7 290.2,396.9 289.6,395.0 291.0,394.0 290.5,392.0 291.2,393.5 291.1,392.4 291.3,392.9 292.0,395.2 291.4,393.9 292.0,394.4 291.9,394.2 292.9,395.3 292.9,392.4 293.1,393.2 293.2,397.0 294.1,392.5 294.1,394.7 294.2,396.2 294.3,391.7 295.4,385.8 295.2,373.0 295.2,353.6 295.3,331.1 295.5,260.3 295.6,131.5 295.8,9.1 296.0,-119.7 305.6,-119.7 305.7,67.1 305.9,228.1 306.0,276.4 306.2,331.1 306.5,364.6 306.9,387.8 306.5,395.2 306.6,392.5 306.6,392.6 306.8,392.5 307.0,393.8 307.3,391.9 307.3,391.8 307.8,393.0 308.5,393.6 308.6,391.4 309.2,391.0 308.7,394.7 309.0,392.1 309.6,393.5 309.3,389.5 309.5,394.1 310.5,394.6 310.3,395.1 311.1,392.0 311.0,395.3 311.1,392.4 311.0,394.4 312.4,391.2 312.0,390.8 311.9,391.5 311.9,396.8 312.3,396.0 312.9,397.4 314.0,388.9 313.2,394.5 314.0,394.2 314.3,393.4 312.9,392.4 314.1,394.0 315.3,393.3 314.3,393.4 316.0,395.7 315.8,390.3 315.2,390.4 317.2,393.3 316.5,393.6 317.6,390.1 317.2,389.1 317.0,393.2 318.1,392.3 318.7,394.0 318.7,392.7 317.8,397.4 319.0,397.2 318.4,392.5 318.9,393.6 320.1,392.5 319.1,393.1 321.2,392.1 319.5,392.7 319.9,393.5 321.1,392.4 321.0,394.3 321.2,390.7 321.1,394.8 322.2,393.8 322.2,391.5 322.3,393.7 322.3,391.3 322.2,390.5 323.2,391.6 322.4,393.7 323.4,389.6 324.3,392.1 324.6,394.6 324.3,389.3 323.5,392.5 325.3,391.8 325.7,391.2 325.6,393.7 326.4,391.2 326.6,395.0 325.6,394.5 326.5,393.4 326.7,388.8 327.9,391.6 327.9,390.6 327.7,393.4 328.2,391.7 328.6,396.3 328.1,393.0 328.7,391.8 329.0,393.5 329.1,396.0 329.4,395.4 329.9,391.3 329.5,390.0 329.8,393.1 331.0,389.5 331.6,394.7 332.0,391.2 330.6,391.8 331.8,390.4 331.5,395.0 331.9,390.4 332.4,392.0 332.9,393.7 333.3,393.0 332.1,392.5 333.2,391.6 334.3,393.6 334.1,393.6 333.6,391.9 334.1,392.1 334.5,391.1 335.6,390.3 336.2,395.4 335.1,392.1 336.1,391.5 336.0,391.8 336.7,393.9 336.6,390.6 336.4,388.7 336.9,392.1 337.2,393.3 338.4,390.4 337.7,391.7 338.6,391.5 338.2,391.3 338.5,392.5 339.2,391.7 339.1,393.0 340.5,395.2 340.5,389.7 339.6,391.0 340.7,391.7 341.4,389.0 340.4,391.8 341.0,389.4 342.2,389.9 341.3,391.9 342.3,393.7 342.2,390.5 342.6,390.9 342.3,389.4 343.0,394.2 343.1,391.5 344.4,390.8 344.2,390.6 344.2,391.0 344.4,390.6 345.0,395.5 344.2,391.7 344.7,392.3 345.0,394.0 345.3,390.8 345.2,391.7 346.5,393.2 346.3,393.6 347.4,390.3 347.0,395.7 347.1,391.1 347.8,393.0 348.0,390.6 348.0,387.2 348.6,388.8 349.2,390.9 348.7,387.9 349.8,387.1 349.3,388.8 350.1,387.1 349.9,390.2 350.0,389.4 350.6,390.7 350.2,391.3 350.3,390.5 351.3,392.0 351.4,390.6 351.3,386.2 353.1,389.0 352.5,390.7 352.3,387.0 353.1,387.5 353.4,392.4 353.2,391.6 353.6,386.9 353.1,390.0 354.3,389.8 355.4,391.2 355.3,392.3 355.5,387.8 355.0,391.6 355.0,389.0 356.2,386.3 356.2,388.9 356.2,390.3 356.4,388.6 357.3,388.7 357.4,390.7 357.2,389.3 357.6,392.1 357.1,393.2 357.6,390.8 358.7,393.1 358.5,390.8 358.6,389.8 359.4,389.2 360.1,385.8 359.4,391.3 359.9,390.3 360.2,390.3 361.7,391.3 361.3,385.2 361.2,390.8 360.7,389.6 362.0,389.5 362.2,384.1 362.1,389.6 362.1,390.5 362.5,386.4 362.2,390.2 363.0,393.1 363.3,386.4 363.3,386.7 363.9,391.5 363.5,391.1 365.1,388.5 364.7,390.4 364.5,391.4 365.7,390.7 365.9,384.4 365.6,385.8 365.5,390.2 366.4,388.2 366.9,387.6 367.2,388.4 367.6,387.7 367.9,383.8 367.0,388.8 368.1,389.0 367.4,387.3 369.0,388.5 369.0,387.9 369.5,387.8 369.3,388.9 369.6,383.9 369.6,387.9 368.8,383.4 370.3,388.1 371.9,388.1 371.5,385.4 371.1,386.4 371.6,383.7 371.9,383.9 371.7,380.0 372.2,391.9 372.7,387.3 372.5,384.8 373.3,385.0 373.9,384.5 374.0,378.0 374.0,389.3 374.0,382.1 374.7,384.0 374.4,383.2 374.6,380.4 375.8,382.9 375.3,380.6 375.1,379.0 376.4,379.0 376.6,386.4 377.0,383.0 376.7,384.4 377.6,382.8 377.2,381.0 377.1,374.7 377.8,381.5 378.2,380.2 377.9,379.5 378.5,374.6 379.0,379.8 379.0,376.6 379.5,375.1 379.7,375.3 379.6,382.2 380.4,379.7 380.8,373.5 379.8,380.2 380.7,375.1 381.7,378.4 381.8,372.1 380.9,372.8 382.2,376.9 383.0,372.1 383.0,374.1 383.3,371.7 383.1,365.0 383.5,367.4 383.2,366.3 384.0,361.2 385.3,365.2 384.5,359.9 384.3,362.2 385.3,361.5 384.3,362.8 386.6,363.4 386.1,363.0 386.0,361.3 386.2,354.1 386.2,353.0 386.9,356.8 387.2,346.2 386.7,352.7 388.2,349.8 387.8,352.5 387.7,348.1 388.9,337.5 389.1,337.3 388.8,340.4 389.0,327.8 390.1,332.1 389.6,328.3 390.2,319.4 391.0,319.5 390.1,320.9 390.2,322.0 390.8,302.2 391.1,323.5 391.7,306.7 392.4,310.7 392.0,296.7 393.3,279.3 392.8,283.4 392.1,278.0 393.3,267.8 393.9,240.5 394.3,238.1 393.7,241.8 394.3,243.0 395.6,231.4 394.9,212.7 394.7,210.1 394.7,198.3 395.5,201.0 396.1,195.5 395.7,181.1 397.1,148.5 396.4,157.3 396.1,85.3 397.6,110.1 397.5,98.6 397.7,83.2 398.7,116.6 398.1,114.0 398.9,91.1 398.6,73.5 399.9,73.5 399.4,73.5 399.7,73.5 400.2,73.9 400.2,79.5 400.7,104.7 400.6,103.1 401.3,133.9 401.3,146.8 401.3,135.0 402.1,187.9 402.3,151.7 401.8,157.0 402.4,201.3 402.1,195.1 403.2,212.9 403.8,236.3 404.8,229.5 404.0,236.6 404.7,240.1 405.1,261.6 405.0,264.2 404.1,277.9 405.0,270.1 405.7,285.7 405.9,283.6 406.1,300.9 405.9,299.8 405.7,311.7 407.0,314.7 407.6,306.5 407.1,318.7 407.9,321.7 407.6,320.2 408.1,332.3 408.2,319.9 409.1,337.6 408.5,338.1 409.3,327.5 409.9,349.3 409.7,334.6 409.5,343.3 410.5,344.7 410.5,353.6 410.2,349.9 411.0,357.7 411.2,349.8 411.9,356.4 411.7,359.4 412.2,360.0 412.7,360.0 411.8,357.0 413.4,360.4 413.2,365.6 413.0,367.0 413.8,368.5 414.5,363.1 413.9,365.1 414.3,371.3 415.4,373.7 415.8,369.4 416.2,371.8 415.6,369.0 415.4,371.7 415.7,370.9 416.2,370.2 416.2,370.1 417.1,374.4 417.8,372.2 417.0,376.5 418.4,378.8 417.6,375.2 417.9,372.9 417.9,372.8 419.1,377.3 419.0,382.2 419.3,377.0 418.2,378.8 419.6,377.0 420.2,376.2 419.1,380.4 421.5,381.4 421.0,380.9 421.7,381.9 421.3,383.0 422.1,380.2 422.6,382.8 423.4,381.9 422.0,382.3 423.7,383.2 422.5,380.4 423.4,383.2 423.4,382.5 423.8,380.6 423.2,383.0 424.2,386.3 424.1,384.1 424.8,384.3 425.3,381.8 425.5,379.5 425.7,383.1 426.6,384.0 426.4,380.4 426.8,385.5 427.4,383.4 427.0,383.1 427.3,384.4 427.9,384.8 427.7,384.1 428.7,381.1 428.1,383.4 428.5,386.1 428.8,384.2 429.0,382.8 429.4,381.0 429.5,383.3 428.9,384.7 430.7,382.2 430.3,383.3 431.1,385.1 430.5,386.9 431.5,385.3 430.9,383.5 432.5,388.0 432.0,389.2 432.1,384.7 431.3,389.2 431.8,388.8 432.9,386.5 433.1,386.6 433.4,386.0 433.7,385.9 434.6,385.2 434.2,386.6 434.5,388.2 434.6,392.6 434.7,383.9 435.7,385.0 435.6,385.4 435.8,386.9 436.4,388.8 436.6,386.0 437.2,387.2 437.4,390.0 436.8,385.1 437.3,390.3 438.3,388.3 438.0,383.8 438.7,389.3 438.3,387.3 437.8,385.6 438.2,387.8 439.2,390.8 439.5,389.0 441.1,388.2 440.6,391.3 440.9,385.4 441.2,387.8 440.3,387.1 441.4,388.1 441.6,387.9 442.8,389.5 441.8,391.8 441.7,387.6 442.7,389.0 442.9,386.1 443.3,391.6 443.6,389.1 443.8,385.2 443.7,392.2 444.1,392.0 445.6,389.3 444.5,386.5 445.3,392.3 444.9,389.9 444.8,390.5 446.3,391.3 446.2,390.8 447.0,388.1 447.2,390.2 447.1,393.1 446.9,391.9 448.4,390.6 447.8,393.5 449.0,392.3 448.6,391.8 449.0,395.1 449.1,387.7 449.3,394.3 449.3,391.2 450.7,391.8 449.5,392.6 449.5,389.3 450.6,391.5 450.4,393.3 451.4,389.6 451.2,390.8 452.1,393.8 451.8,394.8 451.7,390.4 452.2,392.4 452.9,394.8 452.6,391.2 452.7,394.9 453.3,393.6 453.8,393.9 454.5,396.0 454.4,391.2 454.8,386.2 454.6,391.4 455.8,391.9 456.2,393.1 455.2,392.8 455.9,392.2 456.0,391.7 456.4,393.7 456.4,392.8 456.5,393.3 456.5,391.9 457.1,391.3 457.6,391.0 458.4,393.8 458.4,393.9 458.2,391.8 458.4,393.5 458.2,393.4 459.5,392.3 459.5,392.4 460.0,390.8 460.3,395.3 460.5,391.2 460.5,394.0 460.7,392.0 460.6,395.5 461.0,393.5 461.8,394.3 462.9,390.2 461.9,395.0 462.5,391.3 464.1,394.7 462.9,395.3 463.0,392.8 463.4,391.5 463.6,393.5 463.1,392.4 464.6,393.0 463.7,393.5 464.5,391.0 464.8,393.5 465.5,392.0 465.4,395.5 465.6,393.8 465.6,391.9 466.4,394.3 466.4,397.2 466.5,392.2 466.5,392.5 467.0,394.1 467.7,393.4 467.2,394.2 468.2,392.9 468.4,391.7 469.2,393.1 468.6,393.8 468.7,394.5 469.4,393.9 469.5,394.5 468.8,392.0 470.8,395.5 470.6,394.7 470.8,393.1 470.7,393.1 471.5,393.3 471.4,394.4 472.6,393.4 472.4,396.2 473.0,396.4 472.1,395.9 472.5,393.1 473.0,391.4 473.1,394.5 474.4,394.7 474.1,394.3 473.7,390.7 474.4,393.4 475.6,393.6 474.9,394.8 475.6,393.0 474.8,391.6 475.6,393.5 476.0,395.2 476.2,391.6 476.6,393.9 477.0,390.8 477.7,395.6 476.6,394.1 477.7,393.4 478.3,396.9 478.3,393.7 479.0,392.8 478.7,394.1 478.8,393.2 478.9,393.6 479.9,395.4 479.2,392.7 479.9,395.2 480.3,394.5 480.9,395.2 480.7,392.9 480.7,394.8 481.6,394.8 481.1,397.4 481.6,394.5 481.2,392.3 482.5,397.4 482.8,393.4 482.2,394.1 483.1,397.0 483.7,394.8 483.4,392.5 483.2,394.1 484.2,393.5 484.8,392.2 484.0,394.6 485.5,392.6 485.3,396.2 486.0,395.6 485.4,391.7 486.6,391.8 486.5,392.5 487.0,396.7 487.0,394.5 487.7,395.6 487.4,390.9 487.5,396.4 487.5,396.3 487.5,395.1 488.6,393.6 488.6,395.1 489.0,394.7 489.2,393.7 489.7,394.1 489.9,397.3 489.8,396.3 490.7,391.4 491.6,394.1 490.5,391.1 491.0,391.7 491.7,392.3 491.4,394.1 492.5,391.6 491.9,394.9 492.0,390.4 492.3,393.2 493.5,393.2 492.4,394.8 493.6,395.1 492.9,394.6 494.5,395.0 494.6,395.6 495.0,396.0 495.9,393.8 495.2,392.2 496.0,390.9 496.0,392.9 496.5,394.3 495.9,393.1 497.1,391.3 496.7,393.9 497.8,392.5 497.8,393.5 497.7,393.9 498.2,395.1 498.4,393.0 498.5,395.5 499.9,395.8 498.6,393.6 498.6,392.5 498.9,392.6" fill="none" stroke="#000" stroke-width="2.2" stroke-linejoin="round" marker-start="url(#mcA)" marker-mid="url(#mcA)" marker-end="url(#mcA)" clip-path="url(#clipA)"/>
<line x1="704.0" y1="43.6" x2="704.0" y2="399" stroke="#f00" stroke-width="2.0" stroke-dasharray="13.6 4.4" stroke-dashoffset="2.8"/>
<line x1="710.0" y1="43.6" x2="710.0" y2="399" stroke="#444" stroke-width="2.0" stroke-dasharray="13.6 4.4" stroke-dashoffset="2.8"/>
<line x1="856.4" y1="40.8" x2="856.4" y2="399" stroke="#f00" stroke-width="1.7" stroke-dasharray="13.6 4.4" stroke-dashoffset="2.8"/>
<line x1="858.3" y1="40.8" x2="858.3" y2="399" stroke="#000" stroke-width="1.5" stroke-dasharray="13.6 4.4" stroke-dashoffset="2.8"/>
<line x1="989.4" y1="41" x2="989.4" y2="399" stroke="#000" stroke-width="1.6" stroke-dasharray="13.6 4.4" stroke-dashoffset="2.8"/>
<line x1="1002.3" y1="41" x2="1002.3" y2="399" stroke="#f00" stroke-width="1.8" stroke-dasharray="13.6 4.4" stroke-dashoffset="2.8"/>
<polyline points="704.0,348.6 706.8,344.0 709.4,354.7 711.9,352.2 714.7,348.6 718.3,340.4 721.2,331.4 724.1,326.0 726.3,318.8 728.4,313.4 729.9,298.3 732.0,302.6 733.8,291.8 735.6,284.6 737.4,272.0 739.2,231.4 741.7,231.4 744.2,198.3 746.4,128.1 748.9,119.1 750.7,101.2 753.2,74.2 757.9,74.2 760.8,126.3 763.3,147.9 765.8,187.5 767.6,219.9 769.8,243.2 771.6,257.6 773.4,279.2 775.9,306.2 778.8,326.0 781.3,336.8 784.2,342.2 786.7,344.0 789.6,345.8 792.1,354.7 794.6,356.5 797.5,356.5 800.4,358.3 802.9,358.3 805.8,360.1 808.3,362.0 811.2,362.0 813.7,363.7 816.2,363.0 819.1,338.6 821.9,304.4 824.1,232.4 826.2,30.0 834.3,30.0 835.3,123.8 837.0,237.1 838.8,308.0 840.6,327.8 843.2,339.6 845.0,349.4 847.5,358.3 850.4,362.7 853.2,367.3 855.8,368.0 858.6,369.1 861.2,366.6 864.0,365.5 866.5,361.2 869.1,354.7 871.2,345.0 873.0,318.8 874.5,287.5 876.3,221.7 878.0,30.0 886.6,30.0 887.4,113.7 889.2,226.3 890.6,293.6 892.1,308.0 893.5,327.8 894.6,342.2 896.4,351.2 898.9,358.3 901.7,363.5 905.0,363.7 907.9,362.0 911.6,359.4 915.2,362.0 917.8,358.3 920.3,354.7 923.2,352.2 926.0,348.6 928.6,344.0 931.1,337.8 934.0,332.1 936.8,324.2 939.4,315.2 941.9,295.4 944.0,277.4 945.8,258.7 947.3,237.8 948.3,209.0 950.1,176.7 951.9,155.1 953.7,126.3 954.8,95.8 957.3,92.2 959.9,99.4 962.0,112.0 963.5,126.3 964.9,147.9 966.3,165.9 967.8,189.3 969.2,212.7 970.6,234.2 972.1,255.8 974.2,272.0 976.4,284.6 978.6,302.6 980.7,310.5 983.2,317.0 985.8,324.2 988.6,332.1 991.5,340.4 994.4,345.8 997.3,353.0 1000.1,356.5 1002.3,362.7" fill="none" stroke="#f00" stroke-width="2.4" stroke-linejoin="round" marker-start="url(#msB)" marker-mid="url(#msB)" marker-end="url(#msB)" clip-path="url(#clipB)"/>
<polyline points="709.7,344.0 713.0,342.0 716.0,333.0 718.3,336.0 721.2,339.0 723.7,345.0 726.6,339.0 729.9,338.0 732.0,333.0 735.6,330.6 738.8,322.4 741.0,299.0 742.8,293.6 745.0,268.4 747.1,236.0 749.6,185.7 752.2,153.3 754.0,74.2 756.1,57.0 758.6,114.8 760.8,147.9 763.0,188.2 764.7,248.6 766.9,286.4 769.0,291.8 771.2,301.9 773.4,306.2 775.9,304.4 777.7,327.8 779.5,333.2 783.1,329.6 786.0,329.6 788.5,331.4 790.3,340.4 792.8,336.8 795.0,342.2 797.5,340.4 800.4,335.0 802.9,337.8 805.4,341.4 808.3,340.4 810.8,337.8 813.7,330.6 816.2,316.3 818.7,279.2 820.9,173.8 822.6,30.0 836.4,30.0 837.8,92.2 840.6,204.4 842.4,250.4 844.2,300.8 846.0,313.4 848.6,326.0 850.4,333.2 853.2,338.6 856.8,340.4 860.4,336.8 864.0,337.0 865.8,333.2 868.3,327.8 870.9,302.6 873.0,218.8 874.8,141.4 876.2,30.0 889.8,30.0 890.8,82.4 892.6,182.8 893.7,250.4 895.1,297.2 896.9,314.0 899.8,326.0 902.3,330.6 905.2,335.0 908.8,334.2 912.4,337.8 916.0,335.0 918.8,340.4 922.4,337.8 926.0,328.5 929.6,335.0 933.2,327.8 936.5,324.2 939.4,318.8 941.2,309.0 943.0,291.8 944.7,282.0 946.5,258.7 947.6,221.0 949.1,212.7 950.9,173.8 951.9,128.1 953.4,142.5 954.8,70.6 956.3,56.2 957.3,91.4 959.1,137.1 960.6,142.5 962.0,208.0 963.5,237.8 964.5,239.6 966.3,279.2 968.1,295.4 969.2,287.5 970.6,324.2 972.8,326.0 975.3,320.6 977.8,334.2 980.7,331.4 983.6,338.6 986.1,333.2" fill="none" stroke="#000" stroke-width="2.0" stroke-linejoin="round" marker-start="url(#mcB)" marker-mid="url(#mcB)" marker-end="url(#mcB)" clip-path="url(#clipB)"/>
<line x1="1289" y1="33" x2="1289" y2="387.3" stroke="#f00" stroke-width="1.6" />
<line x1="1334.4" y1="33" x2="1334.4" y2="387.3" stroke="#000" stroke-width="1.3" />
<line x1="1450.3" y1="33" x2="1450.3" y2="387.3" stroke="#000" stroke-width="1.3" />
<line x1="1462.8" y1="33" x2="1462.8" y2="387.3" stroke="#f00" stroke-width="1.6" />
<polyline points="1332.2,323.9 1334.9,319.4 1337.0,322.0 1340.3,323.9 1342.0,318.5 1343.8,314.0 1345.6,309.5 1347.4,305.0 1349.2,300.5 1351.0,296.0 1352.8,289.7 1355.5,288.0 1357.0,281.6 1357.7,273.5 1359.1,266.3 1360.4,260.9 1361.3,253.7 1362.4,244.7 1363.3,240.3 1364.5,235.8 1366.0,231.3 1367.2,224.0 1368.1,211.5 1369.4,196.7 1370.7,180.1 1371.8,165.4 1373.0,147.5 1374.2,129.5 1375.2,113.7 1376.3,97.2 1377.5,83.7 1379.0,70.0 1380.8,63.8 1382.7,67.2 1383.8,71.7 1384.7,77.0 1386.8,88.7 1387.7,104.0 1388.3,123.2 1388.7,138.5 1389.5,154.2 1390.2,169.6 1391.7,186.4 1393.0,202.5 1394.4,214.2 1395.6,221.7 1396.5,231.3 1397.6,239.4 1398.9,247.4 1399.8,255.5 1401.0,264.2 1402.1,271.7 1403.4,278.0 1404.8,284.3 1406.1,289.7 1407.9,293.3 1409.7,290.6 1412.4,287.6 1413.8,292.4 1415.1,297.8 1416.9,300.9 1418.7,304.1 1419.9,306.8 1421.4,309.1 1423.5,311.0 1425.5,313.0 1428.0,316.0 1430.5,318.5 1433.0,321.0 1435.5,322.5 1437.6,322.1 1440.0,321.0 1442.0,319.4 1443.8,314.9 1446.2,313.1" fill="none" stroke="#000" stroke-width="1.6" stroke-linejoin="round" marker-start="url(#mcC)" marker-mid="url(#mcC)" marker-end="url(#mcC)" clip-path="url(#clipC)"/>
<polyline points="1289.9,342.8 1291.2,339.6 1292.5,336.2 1293.8,332.7 1295.1,328.7 1296.4,323.7 1297.7,320.5 1299.0,320.2 1300.3,320.1 1301.6,320.0 1302.9,320.0 1304.2,320.8 1305.5,324.1 1306.8,326.5 1308.1,325.7 1309.4,323.0 1310.7,319.2 1312.0,314.6 1313.3,306.5 1314.6,300.1 1315.9,299.6 1317.2,299.6 1318.5,299.6 1319.8,299.6 1321.1,298.9 1322.4,294.3 1323.7,288.9 1325.0,285.7 1326.3,283.2 1327.6,280.6 1328.9,277.0 1330.2,271.6 1331.5,266.0 1332.8,260.3 1334.1,255.1 1335.4,250.9 1336.7,247.2 1338.0,243.6 1339.3,239.7 1340.6,235.6 1341.9,231.4 1343.2,227.0 1344.5,222.2 1345.8,217.1 1347.1,211.6 1348.4,204.6 1349.7,193.4 1351.0,182.1 1352.3,171.4 1353.6,161.7 1354.9,154.0 1356.2,146.7 1357.5,137.5 1358.8,124.2 1360.1,112.4 1361.4,102.2 1362.7,93.9 1364.0,87.5 1365.3,82.1 1366.6,76.8 1367.9,71.3 1369.2,67.6 1370.5,65.5 1371.8,64.3 1373.1,64.5 1374.4,65.8 1375.7,67.4 1377.0,69.9 1378.3,73.1 1379.6,77.6 1380.9,82.8 1382.2,88.4 1383.5,94.3 1384.8,101.3 1386.1,109.8 1387.4,121.2 1388.7,138.5 1390.0,148.0 1391.3,155.5 1392.6,164.0 1393.9,172.5 1395.2,180.2 1396.5,187.1 1397.8,193.6 1399.1,199.7 1400.4,206.0 1401.7,218.3 1403.0,228.0 1404.3,234.7 1405.6,240.2 1406.9,244.4 1408.2,247.6 1409.5,250.0 1410.8,252.2 1412.1,254.8 1413.4,258.2 1414.7,262.1 1416.0,266.3 1417.3,270.3 1418.6,273.6 1419.9,276.4 1421.2,279.3 1422.5,283.2 1423.8,290.2 1425.1,298.3 1426.4,304.3 1427.7,308.7 1429.0,312.6 1430.3,316.4 1431.6,320.8 1432.9,325.5 1434.2,328.8 1435.5,329.1 1436.8,327.7 1438.1,326.5 1439.4,325.5 1440.7,324.9 1442.0,324.8 1443.3,325.0 1444.6,325.4 1445.9,325.9 1447.2,326.5 1448.5,328.0 1449.8,331.2 1451.1,334.8 1452.4,337.7 1453.7,339.3 1455.0,340.7 1456.3,341.6 1457.6,341.9 1458.9,341.9 1460.2,341.8 1461.5,341.5" fill="none" stroke="#f00" stroke-width="2.5" stroke-linejoin="round" marker-start="url(#msC)" marker-mid="url(#msC)" marker-end="url(#msC)" clip-path="url(#clipC)"/>
<polyline points="103.0,913.0 104.0,913.3 105.0,913.6 106.0,913.8 107.0,913.9 108.0,914.0 109.0,914.0 110.0,914.0 111.0,914.0 112.0,913.6 113.0,912.9 114.0,911.9 115.0,910.9 116.0,909.9 117.0,909.3 118.0,909.0 119.0,909.2 120.0,909.6 121.0,910.3 122.0,911.1 123.0,911.9 124.0,912.7 125.0,913.4 126.0,913.8 127.0,914.0 128.0,913.8 129.0,913.2 130.0,912.4 131.0,911.5 132.0,910.6 133.0,909.8 134.0,909.2 135.0,909.0 136.0,909.2 137.0,909.7 138.0,910.5 139.0,911.4 140.0,912.3 141.0,913.1 142.0,913.7 143.0,914.0 144.0,913.9 145.0,913.4 146.0,912.8 147.0,912.0 148.0,911.1 149.0,910.4 150.0,909.8 151.0,909.5 152.0,909.7 153.0,910.6 154.0,911.6 155.0,912.4 156.0,912.4 157.0,911.8 158.0,910.9 159.0,910.2 160.0,909.8 161.0,909.5 162.0,909.2 163.0,909.1 164.0,909.0 165.0,909.0 166.0,909.0 167.0,909.0 168.0,909.0 169.0,909.2 170.0,909.9 171.0,910.6 172.0,911.0 173.0,910.9 174.0,910.6 175.0,910.2 176.0,909.8 177.0,909.1 178.0,908.2 179.0,907.3 180.0,906.3 181.0,905.0 182.0,903.5 183.0,902.1 184.0,901.1 185.0,901.0 186.0,901.2 187.0,901.4 188.0,901.8 189.0,902.7 190.0,904.4 191.0,905.9 192.0,906.2 193.0,904.4 194.0,901.5 195.0,898.9 196.0,897.1 197.0,895.5 198.0,894.2 199.0,893.8 200.0,894.8 201.0,896.6 202.0,898.1 203.0,897.7 204.0,894.3 205.0,890.0 206.0,886.2 207.0,881.9 208.0,878.2 209.0,876.5 210.0,875.8 211.0,875.2 212.0,874.9 213.0,875.4 214.0,877.9 215.0,880.7 216.0,882.0 217.0,880.3 218.0,876.4 219.0,871.9 220.0,868.0 221.0,863.4 222.0,859.2 223.0,857.0 224.0,857.0 225.0,857.4 226.0,858.0 227.0,859.0 228.0,862.4 229.0,866.1 230.0,866.2 231.0,862.1 232.0,856.3 233.0,849.0 234.0,840.7 235.0,833.3 236.0,829.7 237.0,829.1 238.0,828.9 239.0,828.4 240.0,827.2 241.0,823.8 242.0,803.1 243.0,783.4 244.0,759.7 245.0,732.5 246.0,698.7 247.0,661.6 248.0,631.6 249.0,617.6 250.0,607.4 251.0,591.8 252.0,585.5 253.0,584.2 254.0,590.5 255.0,600.3 256.0,614.1 257.0,633.6 258.0,657.4 259.0,685.6 260.0,714.3 261.0,738.5 262.0,765.1 263.0,798.2 264.0,810.4 265.0,821.3 266.0,824.4 267.0,824.8 268.0,825.1 269.0,825.2 270.0,825.5 271.0,826.1 272.0,829.8 273.0,835.8 274.0,841.8 275.0,846.4 276.0,850.1 277.0,852.1 278.0,853.6 279.0,854.8 280.0,855.9 281.0,857.1 282.0,858.6 283.0,860.7 284.0,863.3 285.0,866.1 286.0,868.6 287.0,870.5 288.0,871.7 289.0,872.7 290.0,873.5 291.0,874.3 292.0,874.8 293.0,875.2 294.0,875.4 295.0,875.6 296.0,875.6 297.0,875.7 298.0,875.8 299.0,876.0 300.0,876.5 301.0,878.2 302.0,880.4 303.0,882.7 304.0,884.3 305.0,885.9 306.0,887.4 307.0,888.6 308.0,889.1 309.0,888.7 310.0,887.7 311.0,886.2 312.0,884.7 313.0,883.5 314.0,883.0 315.0,883.0 316.0,883.1 317.0,883.3 318.0,883.6 319.0,883.9 320.0,884.3 321.0,884.7 322.0,885.2 323.0,885.7 324.0,886.8 325.0,888.5 326.0,890.6 327.0,892.9 328.0,895.2 329.0,898.0 330.0,901.5 331.0,904.5 332.0,906.3 333.0,905.8 334.0,903.4 335.0,900.4 336.0,897.8 337.0,896.8 338.0,896.3 339.0,896.0 340.0,895.7 341.0,895.5 342.0,895.3 343.0,895.2 344.0,895.2 345.0,895.2 346.0,895.2 347.0,895.2 348.0,895.2 349.0,895.2 350.0,895.2 351.0,895.2 352.0,895.2 353.0,895.2 354.0,895.2 355.0,895.3 356.0,895.7 357.0,896.2 358.0,896.8 359.0,897.5 360.0,898.1 361.0,898.6 362.0,899.1 363.0,899.6 364.0,900.1 365.0,900.7 366.0,901.2 367.0,901.6 368.0,901.9 369.0,902.1 370.0,902.0 371.0,901.5 372.0,900.7 373.0,899.6 374.0,898.5 375.0,897.5 376.0,897.0 377.0,897.0 378.0,897.7 379.0,898.8 380.0,900.2 381.0,901.7 382.0,903.1 383.0,904.1 384.0,904.7 385.0,904.6 386.0,904.0 387.0,903.0 388.0,901.9 389.0,900.7 390.0,899.7 391.0,898.9 392.0,898.6 393.0,898.6 394.0,898.6 395.0,898.6 396.0,898.6 397.0,898.6 398.0,898.6 399.0,898.6 400.0,898.8 401.0,899.2 402.0,899.8 403.0,900.4 404.0,901.1 405.0,901.6 406.0,902.0 407.0,902.1 408.0,901.8 409.0,901.3 410.0,900.5 411.0,899.7 412.0,898.9 413.0,898.3 414.0,897.9 415.0,897.8 416.0,898.0 417.0,898.3 418.0,898.7 419.0,899.1 420.0,899.6 421.0,900.0 422.0,900.2 423.0,900.4 424.0,900.4 425.0,900.3 426.0,900.1 427.0,899.8 428.0,899.5 429.0,899.1 430.0,898.7 431.0,898.4 432.0,898.0 433.0,897.7 434.0,897.4 435.0,897.1 436.0,897.0 437.0,896.9 438.0,896.9 439.0,897.0 440.0,897.0 441.0,897.1 442.0,897.2 443.0,897.4 444.0,897.5 445.0,897.7 446.0,897.8 447.0,898.1 448.0,898.5 449.0,899.1 450.0,899.6 451.0,900.1 452.0,900.6 453.0,901.0 454.0,901.2 455.0,901.2 456.0,901.0 457.0,900.7 458.0,900.3 459.0,899.8 460.0,899.4 461.0,899.0 462.0,898.7 463.0,898.6 464.0,898.6 465.0,898.7 466.0,898.8 467.0,898.9 468.0,899.0 469.0,899.1 470.0,899.3 471.0,899.4 472.0,899.4 473.0,899.5 474.0,899.5 475.0,899.4 476.0,899.3 477.0,899.2 478.0,899.0 479.0,898.9 480.0,898.7 481.0,898.6 482.0,898.6 483.0,898.7 484.0,899.0 485.0,899.5 486.0,900.2 487.0,900.9 488.0,901.7 489.0,902.4 490.0,903.1 491.0,903.6 492.0,903.8 493.0,903.9 494.0,903.8 495.0,903.6 496.0,903.2 497.0,902.8 498.0,902.2 499.0,901.5 500.0,900.8 501.0,899.9 502.0,898.9 503.0,897.8" fill="none" stroke="#000" stroke-width="1.6" stroke-linejoin="round" marker-start="url(#mcD)" marker-mid="url(#mcD)" marker-end="url(#mcD)" clip-path="url(#clipD)"/>
<polyline points="102.7,911.7 103.9,910.0 105.1,908.6 106.3,907.6 107.5,907.1 108.7,906.6 109.9,906.4 111.1,906.3 112.3,906.8 113.5,907.7 114.7,908.7 115.9,910.0 117.1,911.3 118.3,911.7 119.5,910.8 120.7,909.4 121.9,908.0 123.1,907.1 124.3,906.4 125.5,905.7 126.7,905.4 127.9,905.6 129.1,906.4 130.3,907.4 131.5,908.5 132.7,910.1 133.9,911.7 135.1,912.3 136.3,911.4 137.5,909.5 138.7,907.8 139.9,906.7 141.1,905.6 142.3,904.8 143.5,904.6 144.7,905.3 145.9,906.4 147.1,907.6 148.3,908.9 149.5,910.4 150.7,911.5 151.9,911.2 153.1,907.7 154.3,902.9 155.5,898.9 156.7,896.7 157.9,894.9 159.1,893.8 160.3,893.8 161.5,893.8 162.7,893.8 163.9,893.8 165.1,893.8 166.3,893.8 167.5,892.1 168.7,887.1 169.9,881.2 171.1,875.3 172.3,868.5 173.5,863.0 174.7,859.3 175.9,856.1 177.1,853.7 178.3,852.3 179.5,851.7 180.7,851.3 181.9,851.0 183.1,850.6 184.3,849.9 185.5,847.3 186.7,841.5 187.9,834.6 189.1,826.7 190.3,817.1 191.5,809.2 192.7,804.3 193.9,799.9 195.1,796.9 196.3,795.8 197.5,795.8 198.7,795.8 199.9,795.9 201.1,797.5 202.3,799.4 203.5,800.3 204.7,799.2 205.9,796.6 207.1,793.0 208.3,788.8 209.5,781.3 210.7,772.3 211.9,764.7 213.1,757.8 214.3,751.6 215.5,746.9 216.7,743.3 217.9,740.1 219.1,736.6 220.3,732.6 221.5,728.2 222.7,723.0 223.9,716.1 225.1,707.1 226.3,695.9 227.5,682.3 228.7,666.4 229.9,650.8 231.1,636.0 232.3,623.2 233.5,613.1 234.7,604.7 235.9,596.9 237.1,591.7 238.3,588.6 239.5,586.5 240.7,586.3 241.9,587.9 243.1,590.2 244.3,593.5 245.5,598.1 246.7,603.8 247.9,611.4 249.1,620.4 250.3,630.9 251.5,643.5 252.7,658.5 253.9,674.1 255.1,689.4 256.3,704.5 257.5,720.7 258.7,738.2 259.9,755.8 261.1,770.3 262.3,777.0 263.5,778.4 264.7,779.2 265.9,779.7 267.1,780.2 268.3,780.4 269.5,780.6 270.7,781.0 271.9,782.4 273.1,787.2 274.3,793.5 275.5,800.3 276.7,807.4 277.9,814.8 279.1,821.1 280.3,824.1 281.5,824.7 282.7,825.0 283.9,824.2 285.1,821.5 286.3,818.2 287.5,815.9 288.7,815.8 289.9,818.0 291.1,821.6 292.3,825.8 293.5,830.0 294.7,835.5 295.9,842.0 297.1,847.9 298.3,851.6 299.5,852.8 300.7,853.6 301.9,854.1 303.1,854.6 304.3,855.2 305.5,856.2 306.7,858.0 307.9,860.6 309.1,863.7 310.3,866.6 311.5,869.4 312.7,872.5 313.9,875.1 315.1,876.1 316.3,875.8 317.5,875.1 318.7,874.2 319.9,873.4 321.1,872.8 322.3,872.8 323.5,873.8 324.7,875.6 325.9,877.7 327.1,879.6 328.3,881.7 329.5,884.0 330.7,886.1 331.9,887.3 333.1,887.4 334.3,887.2 335.5,886.9 336.7,886.7 337.9,886.5 339.1,886.8 340.3,888.3 341.5,890.5 342.7,892.7 343.9,894.1 345.1,894.2 346.3,893.6 347.5,892.5 348.7,891.1 349.9,889.6 351.1,888.2 352.3,887.2 353.5,886.6 354.7,886.7 355.9,887.8 357.1,889.4 358.3,891.2 359.5,892.7 360.7,893.5 361.9,893.4 363.1,892.9 364.3,892.2 365.5,891.3 366.7,890.4 367.9,889.6 369.1,888.8 370.3,888.3 371.5,888.2 372.7,888.3 373.9,888.7 375.1,889.2 376.3,889.8 377.5,890.4 378.7,891.1 379.9,891.7 381.1,892.3 382.3,892.9 383.5,893.5 384.7,894.1 385.9,894.8 387.1,895.4 388.3,896.0 389.5,896.4 390.7,896.8 391.9,896.9 393.1,896.7 394.3,896.1 395.5,895.1 396.7,894.1 397.9,893.0 399.1,892.2 400.3,891.7 401.5,891.8 402.7,892.7 403.9,893.9 405.1,895.2 406.3,896.3 407.5,896.9 408.7,896.6 409.9,895.7 411.1,894.4 412.3,893.0 413.5,891.8 414.7,891.0 415.9,890.9 417.1,891.9 418.3,893.9 419.5,896.5 420.7,899.2 421.9,901.9 423.1,904.1 424.3,905.4 425.5,905.4 426.7,903.8 427.9,900.9 429.1,897.3 430.3,893.6 431.5,890.3 432.7,888.1 433.9,887.4 435.1,887.7 436.3,888.4 437.5,889.2 438.7,890.0 439.9,890.6 441.1,890.9 442.3,891.0 443.5,891.1 444.7,891.2 445.9,891.3 447.1,891.4 448.3,891.5 449.5,891.8 450.7,893.0 451.9,895.3 453.1,898.3 454.3,901.4 455.5,904.3 456.7,906.4 457.9,907.3 459.1,906.8 460.3,905.2 461.5,902.9 462.7,900.4 463.9,898.0 465.1,896.2 466.3,895.2 467.5,895.7 468.7,897.4 469.9,900.0 471.1,902.6 472.3,904.7 473.5,905.6 474.7,905.2 475.9,903.9 477.1,902.1 478.3,900.0 479.5,897.9 480.7,896.1 481.9,894.8 483.1,894.3 484.3,895.0 485.5,896.9 486.7,899.3 487.9,901.9 489.1,904.1 490.3,905.4 491.5,905.5 492.7,904.4 493.9,902.8 495.1,901.0 496.3,899.4 497.5,898.6 498.7,898.7 499.9,899.0 501.1,899.5 502.3,900.4 503.5,901.7" fill="none" stroke="#f00" stroke-width="4.0" stroke-linejoin="round" marker-start="url(#msD)" marker-mid="url(#msD)" marker-end="url(#msD)" clip-path="url(#clipD)"/>
<polyline points="242.0,803.1 243.0,783.4 244.0,759.7 245.0,732.5 246.0,698.7 247.0,661.6 248.0,631.6 249.0,617.6 250.0,607.4 251.0,591.8 252.0,585.5 253.0,584.2 254.0,590.5 255.0,600.3 256.0,614.1 257.0,633.6 258.0,657.4 259.0,685.6 260.0,714.3 261.0,738.5 262.0,765.1 263.0,798.2 264.0,810.4 265.0,821.3" fill="none" stroke="#000" stroke-width="1.6" stroke-linejoin="round" marker-start="url(#mcD)" marker-mid="url(#mcD)" marker-end="url(#mcD)" clip-path="url(#clipD)"/>
<polyline points="750.8,913.0 751.2,837.7 751.5,773.7 751.7,700.0 752.6,700.0 752.8,742.0 753.2,784.0 753.8,837.7 754.5,846.0 754.8,836.3 755.4,842.4 755.9,849.4 756.4,850.5 757.0,845.9 757.5,843.8 758.0,848.5 758.6,855.9 759.1,861.7 759.6,862.4 760.2,863.0 760.7,866.2 761.2,870.6 761.8,869.0 762.3,864.4 762.8,866.9 763.4,878.7 763.9,891.4 764.5,894.8 765.0,895.3 765.5,896.1 766.1,894.5 766.6,889.3 767.1,890.7 767.7,896.7 768.2,896.1 768.7,887.6 769.3,882.4 769.8,887.2 770.3,895.5 770.9,897.0 771.4,892.4 771.9,890.6 772.5,894.5 773.0,896.7 773.5,892.9 774.1,887.2 774.6,883.1 775.1,886.6 775.7,897.6 776.2,912.9 776.7,914.5 777.3,914.5 777.8,910.0 778.3,901.8 778.9,898.4 779.4,897.6 779.9,895.5 780.5,893.5 781.0,898.8 781.5,909.0 782.1,912.0 782.6,904.0 783.1,890.6 783.7,884.4 784.2,887.8 784.7,896.5 785.3,900.1 785.8,900.0 786.3,902.3 786.9,907.8 787.4,910.4 787.9,908.5 788.5,905.2 789.0,901.6 789.5,897.8 790.1,898.1 790.6,903.1 791.1,910.4 791.7,912.7 792.2,910.2 792.8,905.8 793.3,900.8 793.8,892.0 794.4,885.0 794.9,888.3 795.4,897.9 796.0,904.8 796.5,908.7 797.0,910.9 797.6,906.5 798.1,897.5 798.6,894.2 799.2,894.0 799.7,886.5 800.2,874.3 800.8,873.0 801.3,884.9 801.8,896.6 802.4,899.8 802.9,894.8 803.4,890.4 804.0,891.4 804.5,893.0 805.0,887.9 805.6,879.5 806.1,878.5 806.6,884.6 807.2,895.1 807.7,906.3 808.2,914.5 808.8,914.5 809.3,914.5 809.8,914.5 810.4,914.5 810.9,909.8 811.4,911.5 812.0,909.5 812.5,903.3 813.0,894.5 813.6,891.9 814.1,889.8 814.6,889.3 815.2,891.6 815.7,894.8 816.2,895.9 816.8,893.6 817.3,889.1 817.9,883.1 818.4,881.3 818.9,884.0 819.5,889.2 820.0,895.6 820.5,899.8 821.1,901.9 821.6,904.3 822.1,907.3 822.7,907.0 823.2,904.9 823.7,905.5 824.3,906.9 824.8,907.1 825.3,904.0 825.9,902.5 826.4,906.2 826.9,914.5 827.5,914.5 828.0,914.5 828.5,902.9 829.1,907.5 829.6,914.5 830.1,914.4 830.7,900.9 831.2,895.6 831.7,898.6 832.3,905.1 832.8,905.1 833.3,903.1 833.9,904.5 834.4,913.2 834.9,914.5 835.5,914.5 836.0,907.3 836.5,901.4 837.1,906.8 837.6,912.4 838.1,914.5 838.7,914.5 839.2,913.5 839.7,908.7 840.3,905.8 840.8,906.4 841.3,908.1 841.9,909.7 842.4,910.2 842.9,906.4 843.5,898.7 844.0,891.5 844.6,888.6 845.1,890.3 845.6,893.3 846.2,896.0 846.7,897.0 847.2,899.8 847.8,901.5 848.3,901.7 848.8,899.7 849.4,899.5 849.9,900.4 850.4,902.3 851.0,903.6 851.5,902.6 852.0,900.9 852.6,900.6 853.1,902.1 853.6,903.0 854.2,902.9 854.7,903.1 855.2,901.5 855.8,900.5 856.3,902.1 856.8,904.0 857.4,901.3 857.9,895.1 858.4,892.1 859.0,891.8 859.5,892.8 860.0,896.1 860.6,905.8 861.1,914.5 861.6,914.5 862.2,914.5 862.7,914.5 863.2,912.5 863.8,913.5 864.3,912.8 864.8,910.3 865.4,911.4 865.9,914.5 866.4,914.5 867.0,914.5 867.5,914.5 868.0,914.5 868.6,910.9 869.1,905.3 869.6,904.1 870.2,908.4 870.7,914.4 871.2,914.5 871.8,914.5 872.3,914.5 872.9,909.6 873.4,906.7 873.9,908.2 874.5,906.9 875.0,897.9 875.5,893.9 876.1,898.6 876.6,906.5 877.1,907.9 877.7,907.3 878.2,908.3 878.7,909.5 879.3,905.5 879.8,895.7 880.3,886.8 880.9,886.5 881.4,895.4 881.9,906.5 882.5,912.3 883.0,912.2 883.5,904.4 884.1,893.9 884.6,889.0 885.1,894.6 885.7,900.1 886.2,901.7 886.7,900.6 887.3,901.2 887.8,903.5 888.3,905.4 888.9,902.8 889.4,898.6 889.9,902.6 890.5,911.3 891.0,914.5 891.5,909.2 892.1,901.0 892.6,899.0 893.1,903.5 893.7,911.8 894.2,914.5 894.7,914.5 895.3,914.5 895.8,914.5 896.3,914.5 896.9,910.4 897.4,913.3 898.0,914.5 898.5,914.5 899.0,914.5 899.6,914.5 900.1,913.5 900.6,914.5 901.2,914.5 901.7,912.9 902.2,905.7 902.8,897.9 903.3,895.2 903.8,898.8 904.4,905.1 904.9,906.2 905.4,902.4 906.0,897.2 906.5,896.6 907.0,899.8 907.6,904.9 908.1,908.5 908.6,904.9 909.2,894.2 909.7,881.0 910.2,876.4 910.8,881.2 911.3,889.9 911.8,895.4 912.4,900.3 912.9,904.4 913.4,903.2 914.0,896.6 914.5,896.6 915.0,905.5 915.6,914.5 916.1,914.5 916.6,914.5 917.2,913.6 917.7,914.5 918.2,914.5 918.8,909.3 919.3,902.1 919.8,900.0 920.4,899.8 920.9,896.6 921.4,900.6 922.0,910.9 922.5,914.5 923.0,908.8 923.6,897.9 924.1,893.1 924.7,895.7 925.2,898.1 925.7,896.5 926.3,900.3 926.8,908.1 927.3,911.4 927.9,903.0 928.4,899.4 928.9,903.0 929.5,907.2 930.0,901.9 930.5,896.3 931.1,900.1 931.6,913.7 932.1,914.5 932.7,914.5 933.2,914.5 933.7,907.4 934.3,901.5 934.8,893.5 935.3,886.3 935.9,887.8 936.4,898.9 936.9,908.8 937.5,909.2 938.0,905.6 938.5,903.3 939.1,906.2 939.6,910.9 940.1,912.0 940.7,904.9 941.2,898.2 941.7,895.8 942.3,899.2 942.8,904.4 943.3,909.0 943.9,907.9 944.4,905.0 944.9,903.1 945.5,901.7 946.0,901.6 946.5,906.5 947.1,911.7 947.6,913.1 948.1,912.2 948.7,913.0 949.2,912.8 949.7,910.2 950.3,904.9 950.8,900.7 951.4,900.0 951.9,901.8 952.4,903.9 953.0,906.3 953.5,911.2 954.0,913.4 954.6,911.1 955.1,907.7 955.6,911.0 956.2,914.5 956.7,913.1 957.2,909.0 957.8,908.1 958.3,907.3 958.8,901.5 959.4,899.0 959.9,902.7 960.4,911.3 961.0,914.5 961.5,914.5 962.0,911.2 962.6,905.0 963.1,900.4 963.6,898.9 964.2,901.8 964.7,904.8 965.2,904.2 965.8,899.1 966.3,895.3 966.8,888.6 967.4,883.0 967.9,882.0 968.4,890.9 969.0,899.1 969.5,900.7 970.0,898.4 970.6,897.7 971.1,902.5 971.6,909.2 972.2,913.0 972.7,906.9 973.2,898.6 973.8,893.2 974.3,894.3 974.8,897.5 975.4,900.1 975.9,898.2 976.4,897.4 977.0,899.3 977.5,903.5 978.1,903.3 978.6,900.6 979.1,896.1 979.7,898.2 980.2,902.5 980.7,907.0 981.3,903.7 981.8,897.9 982.3,889.5 982.9,879.7 983.4,871.0 983.9,872.5 984.5,884.9 985.0,898.3 985.5,906.9 986.1,906.7 986.6,899.8 987.1,892.2 987.7,889.5 988.2,891.8 988.7,897.0 989.3,903.9 989.8,908.9 990.3,908.5 990.9,903.4 991.4,896.6 991.9,894.0 992.5,895.7 993.0,899.6 993.5,904.2 994.1,907.4 994.6,907.1 995.1,898.9 995.7,888.7 996.2,880.7 996.7,879.7 997.3,884.3 997.8,892.5 998.3,897.0 998.9,895.5 999.4,892.4 999.9,892.4 1000.5,894.8 1001.0,897.1 1001.5,894.6 1002.1,890.1 1002.6,888.9 1003.1,892.4 1003.7,893.4 1004.2,892.4 1004.8,895.7 1005.0,875.0 1007.1,870.7 1008.5,866.0 1009.6,861.2 1010.9,843.6 1012.8,832.4 1014.1,818.0 1014.8,803.0 1015.4,767.9 1016.0,716.7 1016.7,662.4 1017.5,625.0 1018.3,592.8 1018.9,617.4 1019.9,658.3 1020.5,707.8 1021.5,754.1 1021.8,787.0 1022.4,805.2 1023.1,816.4 1023.4,826.0 1023.7,835.6 1024.7,843.6 1025.3,853.2 1025.6,861.2 1027.9,870.7 1031.0,875.5 1031.5,890.6 1032.0,895.8 1032.5,897.2 1033.1,893.6 1033.6,887.5 1034.1,883.5 1034.7,884.6 1035.2,889.5 1035.7,895.0 1036.3,902.4 1036.8,910.9 1037.3,914.5 1037.9,914.5 1038.4,914.5 1038.9,908.1 1039.5,896.5 1040.0,896.4 1040.5,902.9 1041.1,910.0 1041.6,910.7 1042.1,908.7 1042.7,906.8 1043.2,903.4 1043.7,898.5 1044.3,895.9 1044.8,898.5 1045.3,903.7 1045.9,908.8 1046.4,912.4 1046.9,913.5 1047.5,911.4 1048.0,907.2 1048.5,904.5 1049.1,901.3 1049.6,898.4 1050.1,896.7 1050.7,899.6 1051.2,902.6 1051.7,903.7 1052.3,902.7 1052.8,904.6 1053.3,907.1 1053.9,906.5 1054.4,899.9 1054.9,894.8 1055.5,895.5 1056.0,900.3 1056.5,904.4 1057.1,909.2 1057.6,911.5 1058.2,908.7 1058.7,904.1 1059.2,903.8 1059.8,904.8 1060.3,903.5 1060.8,901.3 1061.4,901.1 1061.9,900.8 1062.4,898.9 1063.0,896.7 1063.5,897.1 1064.0,898.7 1064.6,899.6 1065.1,899.8 1065.6,901.1 1066.2,903.2 1066.7,907.4 1067.2,913.3 1067.8,914.5 1068.3,914.5 1068.8,914.0 1069.4,906.0 1069.9,902.9 1070.4,908.4 1071.0,914.5 1071.5,914.5 1072.0,914.5 1072.6,913.6 1073.1,913.0 1073.6,913.7 1074.2,912.6 1074.7,913.0 1075.2,914.5 1075.8,914.5 1076.3,914.5 1076.8,914.5 1077.4,912.4 1077.9,912.7 1078.4,914.5 1079.0,914.5 1079.5,910.2 1080.0,903.3 1080.6,899.1 1081.1,902.1 1081.6,907.2 1082.2,910.0 1082.7,907.7 1083.2,904.0 1083.8,900.8 1084.3,901.5 1084.8,904.5 1085.4,908.5 1085.9,909.3 1086.5,907.8 1087.0,904.3 1087.5,901.3 1088.1,898.8 1088.6,898.7 1089.1,897.4 1089.7,895.7 1090.2,894.9 1090.7,897.2 1091.3,902.1 1091.8,908.9 1092.3,912.5 1092.9,907.2 1093.4,900.1 1093.9,899.5 1094.5,903.9 1095.0,905.8 1095.5,906.8 1096.1,909.3 1096.6,909.6 1097.1,905.2 1097.7,899.8 1098.2,897.7 1098.7,900.7 1099.3,907.4 1099.8,913.4 1100.3,914.5 1100.9,911.9 1101.4,908.9 1101.9,908.3 1102.5,910.1 1103.0,914.4 1103.5,914.5 1104.1,913.4 1104.6,907.8 1105.1,904.8 1105.7,903.4 1106.2,904.2 1106.7,907.4 1107.3,912.1 1107.8,914.5 1108.3,914.5 1108.9,914.5 1109.4,914.5 1109.9,909.5 1110.5,905.0 1111.0,902.9 1111.6,902.4 1112.1,903.5 1112.6,904.7 1113.2,904.9 1113.7,906.4 1114.2,909.4 1114.8,910.4 1115.3,906.8 1115.8,903.4 1116.4,904.8 1116.9,910.2 1117.4,913.8 1118.0,913.8 1118.5,910.9 1119.0,906.4 1119.6,902.9 1120.1,905.4 1120.6,911.5 1121.2,913.5 1121.7,909.0 1122.2,903.0 1122.8,899.5 1123.3,898.6 1123.8,901.7 1124.4,906.1 1124.9,909.0 1125.4,907.0 1126.0,906.5 1126.5,909.1 1127.0,913.0 1127.6,912.9 1128.1,911.2 1128.6,911.4 1129.2,910.5 1129.7,907.2 1130.2,902.6 1130.8,901.8 1131.3,905.4 1131.8,910.5 1132.4,912.3 1132.9,910.6 1133.4,910.7 1134.0,913.7 1134.5,914.5 1135.0,914.5 1135.6,914.5 1136.1,914.5 1136.6,914.5 1137.2,914.5 1137.7,914.5 1138.2,914.5 1138.8,914.5 1139.3,914.5 1139.9,914.5 1140.4,913.3 1140.9,911.2 1141.5,911.9 1142.0,914.5 1142.5,914.5 1143.1,914.5 1143.6,914.5 1144.1,911.9 1144.7,906.5 1145.2,903.7 1145.7,905.5 1146.3,907.6 1146.8,906.5 1147.3,903.8 1147.9,903.7 1148.4,903.7 1148.9,902.5 1149.5,900.6 1150.0,903.4 1150.5,909.2 1151.1,914.0 1151.6,913.4" fill="none" stroke="#000" stroke-width="1.6" stroke-linejoin="round" marker-start="url(#mcE)" marker-mid="url(#mcE)" marker-end="url(#mcE)" clip-path="url(#clipE)"/>
<polyline points="751.3,913.8 751.8,909.9 752.4,909.1 752.9,906.8 753.5,903.0 754.0,900.6 754.6,898.4 755.1,891.7 755.7,890.7 756.2,886.9 756.8,885.9 757.3,879.4 757.9,877.8 758.4,871.1 759.0,875.1 759.5,873.7 760.1,873.7 760.6,874.5 761.2,871.0 761.7,872.7 762.3,873.2 762.8,872.6 763.4,871.4 763.9,870.7 764.5,865.1 765.0,860.9 765.6,858.9 766.1,858.6 766.7,857.4 767.2,854.2 767.8,851.5 768.3,846.9 768.9,846.7 769.4,844.8 770.0,843.6 770.5,845.8 771.1,841.7 771.6,843.5 772.2,839.8 772.7,837.7 773.3,836.1 773.8,833.0 774.4,833.9 774.9,835.4 775.5,834.5 776.0,833.2 776.6,833.7 777.1,832.6 777.7,832.9 778.2,836.4 778.8,833.5 779.3,831.6 779.9,832.4 780.4,836.4 781.0,840.5 781.5,844.8 782.1,846.4 782.6,850.3 783.2,855.1 783.7,856.7 784.3,862.2 784.8,867.0 785.4,870.0 785.9,873.0 786.5,878.4 787.0,882.2 787.6,883.3 788.1,881.9 788.7,886.8 789.2,889.6 789.8,893.0 790.3,893.5 790.9,895.7 791.4,900.1 792.0,902.6 792.5,902.7 793.1,902.6 793.6,904.0 794.2,908.3 794.7,907.0 795.3,908.7 795.8,908.4 796.4,908.4 796.9,907.6 797.5,903.9 798.0,902.7 798.6,902.1 799.1,899.9 799.7,895.8 800.2,899.2 800.8,891.8 801.3,893.3 801.9,886.5 802.4,888.2 803.0,881.7 803.5,884.4 804.1,882.3 804.6,883.0 805.2,880.2 805.7,881.6 806.3,881.4 806.8,881.0 807.4,879.7 807.9,882.7 808.5,877.6 809.0,878.0 809.6,878.1 810.1,882.8 810.7,879.2 811.2,879.5 811.8,879.6 812.3,880.5 812.9,880.7 813.4,880.6 814.0,879.1 814.5,882.7 815.1,882.8 815.6,886.3 816.2,885.7 816.7,886.2 817.3,885.3 817.8,888.8 818.4,890.6 818.9,893.2 819.5,892.0 820.0,893.5 820.6,894.1 821.1,896.9 821.7,897.5 822.2,897.4 822.8,896.7 823.3,903.4 823.9,902.6 824.4,902.6 825.0,902.9 825.5,903.9 826.1,908.5 826.6,908.8 827.2,910.1 827.7,911.2 828.3,906.9 828.8,906.5 829.4,903.0 829.9,900.3 830.5,896.4 831.0,897.2 831.6,898.7 832.1,894.6 832.7,894.7 833.2,893.4 833.8,895.9 834.3,894.5 834.9,890.7 835.4,890.8 836.0,893.0 836.5,891.3 837.1,890.8 837.6,892.4 838.2,891.2 838.7,890.3 839.3,894.8 839.8,890.3 840.4,887.3 840.9,889.7 841.5,889.3 842.0,891.4 842.6,888.8 843.1,887.0 843.7,888.3 844.2,885.4 844.8,886.5 845.3,887.4 845.9,885.2 846.4,883.1 847.0,884.5 847.5,884.7 848.1,886.8 848.6,885.0 849.2,885.7 849.7,884.7 850.3,887.0 850.8,886.9 851.4,890.0 851.9,890.7 852.5,893.8 853.0,893.4 853.6,892.9 854.1,893.0 854.7,895.8 855.2,897.8 855.8,900.2 856.3,897.8 856.9,897.4 857.4,897.3 858.0,899.2 858.5,900.7 859.1,900.6 859.6,900.3 860.2,900.3 860.7,900.4 861.3,896.5 861.8,898.5 862.4,897.4 862.9,896.6 863.5,895.4 864.0,892.4 864.6,895.6 865.1,893.6 865.7,893.9 866.2,894.4 866.8,893.8 867.3,894.3 867.9,894.2 868.4,892.0 869.0,891.5 869.5,894.6 870.1,892.0 870.6,896.6 871.2,891.3 871.7,893.3 872.3,892.8 872.8,893.3 873.4,891.3 873.9,893.2 874.5,895.7 875.0,891.5 875.6,888.7 876.1,893.1 876.7,892.5 877.2,892.7 877.8,890.1 878.3,891.9 878.9,892.4 879.4,890.0 880.0,890.7 880.5,891.3 881.1,891.5 881.6,889.7 882.2,890.3 882.7,893.1 883.3,893.1 883.8,888.1 884.4,893.3 884.9,889.4 885.5,892.0 886.0,888.7 886.6,890.8 887.1,890.6 887.7,893.5 888.2,893.0 888.8,893.9 889.3,894.3 889.9,894.4 890.4,896.1 891.0,895.3 891.5,895.6 892.1,895.3 892.6,895.4 893.2,896.4 893.7,898.3 894.3,899.6 894.8,897.9 895.4,901.4 895.9,900.1 896.5,897.9 897.0,898.1 897.6,897.1 898.1,893.7 898.7,897.4 899.2,895.9 899.8,892.2 900.3,895.6 900.9,892.5 901.4,892.3 902.0,889.2 902.5,891.1 903.1,891.1 903.6,889.0 904.2,888.8 904.7,884.7 905.3,887.4 905.8,885.1 906.4,883.9 906.9,883.8 907.5,883.3 908.0,880.6 908.6,881.6 909.1,882.9 909.7,878.2 910.2,880.1 910.8,877.3 911.3,880.5 911.9,882.1 912.4,879.7 913.0,878.1 913.5,879.1 914.1,880.6 914.6,877.5 915.2,877.7 915.7,880.7 916.3,877.7 916.8,880.0 917.4,878.2 917.9,877.4 918.5,881.4 919.0,882.2 919.6,879.5 920.1,884.8 920.7,881.8 921.2,882.8 921.8,882.6 922.3,880.8 922.9,884.4 923.4,883.0 924.0,883.6 924.5,883.0 925.1,882.2 925.6,886.6 926.2,883.5 926.7,882.4 927.3,883.9 927.8,880.9 928.4,883.4 928.9,887.2 929.5,881.7 930.0,883.6 930.6,880.9 931.1,882.9 931.7,884.6 932.2,881.0 932.8,880.5 933.3,882.9 933.9,880.3 934.4,879.6 935.0,878.0 935.5,873.6 936.1,871.5 936.6,869.9 937.2,872.6 937.7,868.6 938.3,867.2 938.8,868.5 939.4,868.4 939.9,868.3 940.5,864.2 941.0,868.4 941.6,863.7 942.1,864.1 942.7,862.0 943.2,858.4 943.8,858.5 944.3,856.4 944.9,856.2 945.4,856.3 946.0,855.8 946.5,853.0 947.1,851.8 947.6,849.1 948.2,846.1 948.7,847.7 949.3,843.6 949.8,841.1 950.4,837.7 950.9,836.8 951.5,834.2 952.0,834.1 952.6,833.4 953.1,832.7 953.7,831.9 954.2,830.9 954.8,829.5 955.3,827.8 955.9,825.9 956.4,823.9 957.0,821.8 957.5,819.8 958.1,817.8 958.6,815.7 959.2,813.6 959.7,811.4 960.3,808.9 960.8,806.3 961.4,803.5 961.9,800.3 962.5,796.6 963.0,791.8 963.6,786.1 964.1,780.0 964.7,773.9 965.2,768.1 965.8,762.6 966.3,756.8 966.9,750.2 967.4,742.2 968.0,731.9 968.5,720.0 969.1,706.6 969.6,690.6 970.2,674.7 970.7,661.0 971.3,648.5 971.8,637.2 972.4,626.6 972.9,616.3 973.5,607.5 974.0,601.6 974.6,597.6 975.1,594.4 975.7,592.8 976.2,593.5 976.8,595.7 977.3,599.0 977.9,603.8 978.4,611.7 979.0,621.5 979.5,632.8 980.1,647.0 980.6,664.9 981.2,693.8 981.7,716.1 982.3,731.3 982.8,744.0 983.4,755.5 983.9,766.1 984.5,775.2 985.0,782.5 985.6,788.9 986.1,794.8 986.7,800.0 987.2,804.8 987.8,809.2 988.3,813.3 988.9,817.2 989.4,820.9 990.0,824.3 990.5,827.6 991.1,830.6 991.6,833.6 992.2,836.4 992.7,839.0 993.3,841.7 993.8,844.2 994.4,846.7 994.9,849.0 995.5,851.3 996.0,853.4 996.6,855.3 997.1,857.0 997.7,858.5 998.2,860.0 998.8,861.3 999.3,862.6 999.9,863.8 1000.4,869.2 1001.0,864.1 1001.5,866.2 1002.1,867.9 1002.6,873.2 1003.2,868.9 1003.7,870.7 1004.3,872.7 1004.8,868.6 1005.4,874.2 1005.9,874.0 1006.5,876.4 1007.0,877.0 1007.6,875.9 1008.1,877.3 1008.7,875.0 1009.2,874.6 1009.8,876.4 1010.3,877.5 1010.9,877.0 1011.4,878.5 1012.0,879.1 1012.5,881.2 1013.1,878.5 1013.6,878.3 1014.2,880.2 1014.7,880.2 1015.3,881.1 1015.8,883.3 1016.4,879.6 1016.9,882.6 1017.5,884.0 1018.0,884.2 1018.6,880.1 1019.1,882.4 1019.7,885.4 1020.2,883.7 1020.8,884.8 1021.3,884.2 1021.9,886.9 1022.4,885.5 1023.0,885.0 1023.5,885.9 1024.1,888.3 1024.6,887.0 1025.2,884.0 1025.7,883.6 1026.3,888.4 1026.8,884.8 1027.4,888.1 1027.9,887.0 1028.5,888.7 1029.0,887.5 1029.6,885.1 1030.1,891.4 1030.7,889.4 1031.2,889.4 1031.8,892.5 1032.3,891.3 1032.9,892.2 1033.4,890.3 1034.0,891.1 1034.5,891.8 1035.1,890.3 1035.6,892.8 1036.2,892.4 1036.7,891.4 1037.3,891.4 1037.8,893.6 1038.4,892.1 1038.9,893.2 1039.5,893.1 1040.0,892.5 1040.6,887.8 1041.1,893.6 1041.7,894.5 1042.2,892.3 1042.8,892.4 1043.3,895.0 1043.9,891.8 1044.4,895.9 1045.0,895.0 1045.5,896.4 1046.1,894.3 1046.6,894.7 1047.2,895.1 1047.7,892.4 1048.3,893.6 1048.8,896.9 1049.4,894.2 1049.9,894.0 1050.5,896.2 1051.0,898.0 1051.6,895.9 1052.1,895.7 1052.7,896.2 1053.2,897.1 1053.8,894.1 1054.3,897.3 1054.9,897.5 1055.4,898.7 1056.0,898.9 1056.5,898.4 1057.1,900.7 1057.6,897.6 1058.2,897.6 1058.7,900.5 1059.3,898.2 1059.8,897.2 1060.4,897.3 1060.9,898.3 1061.5,896.2 1062.0,900.1 1062.6,899.1 1063.1,900.8 1063.7,897.2 1064.2,898.3 1064.8,898.0 1065.3,899.9 1065.9,899.8 1066.4,900.5 1067.0,900.5 1067.5,897.7 1068.1,900.0 1068.6,899.8 1069.2,899.7 1069.7,900.6 1070.3,896.8 1070.8,898.8 1071.4,899.6 1071.9,898.7 1072.5,898.3 1073.0,901.7 1073.6,901.7 1074.1,903.1 1074.7,898.9 1075.2,896.8 1075.8,901.6 1076.3,900.0 1076.9,898.9 1077.4,901.5 1078.0,900.6 1078.5,898.1 1079.1,901.0 1079.6,898.3 1080.2,901.8 1080.7,899.0 1081.3,898.7 1081.8,902.3 1082.4,902.7 1082.9,900.9 1083.5,899.5 1084.0,902.3 1084.6,901.6 1085.1,901.9 1085.7,900.9 1086.2,899.2 1086.8,900.9 1087.3,904.0 1087.9,900.7 1088.4,901.7 1089.0,901.8 1089.5,903.4 1090.1,902.5 1090.6,901.4 1091.2,905.1 1091.7,902.4 1092.3,902.7 1092.8,901.2 1093.4,899.9 1093.9,903.1 1094.5,901.9 1095.0,903.0 1095.6,899.0 1096.1,905.2 1096.7,902.7 1097.2,904.0 1097.8,901.0 1098.3,902.9 1098.9,903.1 1099.4,904.6 1100.0,904.2 1100.5,899.7 1101.1,903.4 1101.6,903.3 1102.2,902.6 1102.7,903.5 1103.3,904.1 1103.8,904.8 1104.4,901.5 1104.9,902.0 1105.5,903.5 1106.0,904.5 1106.6,901.9 1107.1,903.5 1107.7,901.6 1108.2,903.7 1108.8,903.4 1109.3,904.5 1109.9,905.9 1110.4,902.5 1111.0,904.5 1111.5,901.4 1112.1,904.4 1112.6,906.7 1113.2,901.5 1113.7,903.2 1114.3,899.0 1114.8,904.8 1115.4,907.6 1115.9,902.7 1116.5,904.7 1117.0,906.5 1117.6,903.1 1118.1,904.7 1118.7,903.2 1119.2,903.7 1119.8,904.5 1120.3,905.9 1120.9,904.9 1121.4,904.5 1122.0,904.4 1122.5,906.4 1123.1,905.5 1123.6,905.4 1124.2,901.9 1124.7,904.5 1125.3,903.2 1125.8,907.7 1126.4,906.0 1126.9,907.3 1127.5,903.7 1128.0,902.7 1128.6,903.9 1129.1,906.2 1129.7,904.1 1130.2,906.4 1130.8,907.5 1131.3,904.8 1131.9,906.9 1132.4,901.9 1133.0,903.5 1133.5,904.5 1134.1,905.0 1134.6,903.2 1135.2,904.9 1135.7,907.2 1136.3,906.9 1136.8,906.3 1137.4,904.2 1137.9,907.9 1138.5,906.7 1139.0,904.1 1139.6,907.3 1140.1,905.2 1140.7,906.6 1141.2,906.4 1141.8,906.8 1142.3,908.2 1142.9,909.9 1143.4,906.5 1144.0,906.1 1144.5,905.9 1145.1,906.7 1145.6,906.9 1146.2,903.9 1146.7,906.2 1147.3,909.7 1147.8,907.3 1148.4,907.8 1148.9,906.0 1149.5,909.6 1150.0,907.1 1150.6,905.6 1151.1,905.0 1151.7,906.9" fill="none" stroke="#f00" stroke-width="4.0" stroke-linejoin="round" marker-start="url(#msE)" marker-mid="url(#msE)" marker-end="url(#msE)" clip-path="url(#clipE)"/>
<rect x="290" y="555" width="185" height="196" fill="#fff"/>
<line x1="470.3" y1="561.5" x2="470.3" y2="746.4" stroke="#000" stroke-width="1.3" />
<line x1="295" y1="746.4" x2="470.3" y2="746.4" stroke="#000" stroke-width="1.3" />
<line x1="470.3" y1="561.4" x2="475.6" y2="561.4" stroke="#000" stroke-width="1.3" />
<text x="487.94" y="568.3" font-size="23.5" textLength="32.78" lengthAdjust="spacingAndGlyphs">1.0</text>
<line x1="470.3" y1="607.6" x2="475.6" y2="607.6" stroke="#000" stroke-width="1.3" />
<text x="488.57" y="614.5" font-size="23.5" textLength="36.85" lengthAdjust="spacingAndGlyphs">0.5</text>
<line x1="470.3" y1="653.8" x2="475.6" y2="653.8" stroke="#000" stroke-width="1.3" />
<text x="488.54" y="660.7" font-size="23.5" textLength="15.22" lengthAdjust="spacingAndGlyphs">0</text>
<line x1="470.3" y1="700" x2="475.6" y2="700" stroke="#000" stroke-width="1.3" />
<text x="489.70" y="706.9" font-size="23.5" textLength="47.02" lengthAdjust="spacingAndGlyphs">–0.5</text>
<line x1="470.3" y1="746.2" x2="475.6" y2="746.2" stroke="#000" stroke-width="1.3" />
<text x="489.70" y="753.1" font-size="23.5" textLength="42.38" lengthAdjust="spacingAndGlyphs">–1.0</text>
<line x1="306.5" y1="746.4" x2="306.5" y2="751.5" stroke="#000" stroke-width="1.3" />
<text x="298.79" y="780.1" font-size="23.5" textLength="15.22" lengthAdjust="spacingAndGlyphs">0</text>
<line x1="361.1" y1="746.4" x2="361.1" y2="751.5" stroke="#000" stroke-width="1.3" />
<text x="356.27" y="780.1" font-size="23.5" textLength="9.18" lengthAdjust="spacingAndGlyphs">1</text>
<line x1="415.7" y1="746.4" x2="415.7" y2="751.5" stroke="#000" stroke-width="1.3" />
<text x="408.18" y="780.1" font-size="23.5" textLength="14.83" lengthAdjust="spacingAndGlyphs">2</text>
<line x1="470.3" y1="746.4" x2="470.3" y2="751.5" stroke="#000" stroke-width="1.3" />
<text x="463.21" y="780.1" font-size="23.5" textLength="14.26" lengthAdjust="spacingAndGlyphs">3</text>
<text x="383.5" y="822.2" font-size="28" text-anchor="middle" textLength="122.2" lengthAdjust="spacingAndGlyphs" fill="#000">Delay (ns)</text>
<text x="557" y="654.1" font-size="28" text-anchor="middle" transform="rotate(90 557 654.1)" textLength="132" lengthAdjust="spacingAndGlyphs" fill="#000">Amplitude</text>
<line x1="303.4" y1="561" x2="303.4" y2="746.4" stroke="#f00" stroke-width="1.6" stroke-dasharray="9 4" stroke-dashoffset="0"/>
<line x1="305.4" y1="561" x2="305.4" y2="746.4" stroke="#000" stroke-width="1.4" stroke-dasharray="9 4" stroke-dashoffset="3"/>
<line x1="406" y1="561.5" x2="406" y2="746.4" stroke="#e00" stroke-width="1.6" />
<line x1="450.1" y1="561.5" x2="450.1" y2="746.4" stroke="#222" stroke-width="1.4" />
<polyline points="307.0,598.0 307.3,601.5 307.5,611.5 307.8,626.8 308.1,645.5 308.3,665.5 308.6,684.2 308.9,699.5 309.1,709.5 309.4,713.0 309.7,712.1 309.9,709.6 310.2,705.4 310.4,699.8 310.7,692.8 310.9,684.8 311.2,675.8 311.4,666.3 311.7,656.5 312.0,646.7 312.2,637.2 312.5,628.2 312.7,620.2 313.0,613.2 313.2,607.6 313.5,603.4 313.7,600.9 314.0,600.0 314.2,600.8 314.5,603.2 314.8,607.1 315.0,612.5 315.2,619.2 315.5,627.0 315.8,635.8 316.0,645.3 316.2,655.3 316.5,665.5 316.8,675.7 317.0,685.7 317.2,695.2 317.5,704.0 317.8,711.8 318.0,718.5 318.2,723.9 318.5,727.8 318.8,730.2 319.0,731.0 319.3,730.2 319.5,727.8 319.8,723.9 320.0,718.5 320.3,711.8 320.5,703.9 320.8,694.9 321.0,685.1 321.3,674.6 321.5,663.7 321.8,652.5 322.1,641.3 322.3,630.4 322.6,619.9 322.8,610.1 323.1,601.1 323.3,593.2 323.6,586.5 323.8,581.1 324.1,577.2 324.3,574.8 324.6,574.0 324.9,574.9 325.1,577.5 325.4,581.9 325.6,587.9 325.9,595.3 326.1,604.0 326.4,613.9 326.7,624.6 326.9,636.0 327.2,647.8 327.4,659.7 327.7,671.5 327.9,682.9 328.2,693.6 328.5,703.5 328.7,712.2 329.0,719.6 329.2,725.6 329.5,730.0 329.7,732.6 330.0,733.5 330.3,732.6 330.5,730.0 330.8,725.7 331.0,719.8 331.3,712.5 331.6,703.9 331.8,694.3 332.1,683.9 332.3,673.0 332.6,661.8 332.9,650.5 333.1,639.6 333.4,629.2 333.6,619.6 333.9,611.0 334.2,603.7 334.4,597.8 334.7,593.5 334.9,590.9 335.2,590.0 335.5,590.7 335.7,592.8 336.0,596.1 336.2,600.8 336.5,606.6 336.7,613.3 337.0,621.0 337.3,629.3 337.5,638.2 337.8,647.4 338.0,656.6 338.3,665.8 338.5,674.7 338.8,683.0 339.1,690.7 339.3,697.4 339.6,703.2 339.8,707.9 340.1,711.2 340.3,713.3 340.6,714.0 340.9,713.3 341.1,711.2 341.4,707.7 341.6,703.0 341.9,697.2 342.1,690.3 342.4,682.6 342.6,674.3 342.9,665.5 343.1,656.5 343.4,647.5 343.6,638.7 343.9,630.4 344.1,622.7 344.4,615.8 344.6,610.0 344.9,605.3 345.1,601.8 345.4,599.7 345.6,599.0 345.9,599.6 346.1,601.3 346.4,604.1 346.6,607.9 346.9,612.7 347.1,618.4 347.4,624.8 347.7,631.7 347.9,639.0 348.2,646.7 348.4,654.3 348.7,662.0 348.9,669.3 349.2,676.2 349.5,682.6 349.7,688.3 350.0,693.1 350.2,696.9 350.5,699.7 350.7,701.4 351.0,702.0 351.3,701.5 351.5,699.9 351.8,697.4 352.0,693.9 352.3,689.6 352.5,684.5 352.8,678.8 353.1,672.5 353.3,665.8 353.6,659.0 353.8,652.0 354.1,645.2 354.3,638.5 354.6,632.2 354.9,626.5 355.1,621.4 355.4,617.1 355.6,613.6 355.9,611.1 356.1,609.5 356.4,609.0 356.6,609.6 356.9,611.3 357.1,614.0 357.4,617.8 357.6,622.6 357.9,628.1 358.1,634.3 358.4,641.0 358.6,648.1 358.9,655.3 359.1,662.5 359.4,669.6 359.6,676.3 359.9,682.5 360.1,688.0 360.4,692.8 360.6,696.6 360.9,699.3 361.1,701.0 361.4,701.6 361.7,701.1 361.9,699.7 362.2,697.3 362.4,694.1 362.7,690.0 362.9,685.3 363.2,679.9 363.4,673.9 363.7,667.6 363.9,661.0 364.2,654.3 364.5,647.6 364.7,641.0 365.0,634.7 365.2,628.7 365.5,623.3 365.7,618.6 366.0,614.5 366.2,611.3 366.5,608.9 366.7,607.5 367.0,607.0 367.2,607.5 367.5,609.1 367.8,611.7 368.0,615.2 368.2,619.5 368.5,624.6 368.8,630.3 369.0,636.5 369.2,643.0 369.5,649.7 369.8,656.4 370.0,662.9 370.2,669.1 370.5,674.8 370.8,679.9 371.0,684.2 371.2,687.7 371.5,690.3 371.8,691.9 372.0,692.4 372.2,692.1 372.5,691.1 372.8,689.5 373.0,687.2 373.2,684.5 373.5,681.1 373.8,677.4 374.0,673.2 374.2,668.7 374.5,663.9 374.8,659.0 375.0,654.0 375.2,648.9 375.5,644.0 375.8,639.2 376.0,634.7 376.2,630.5 376.5,626.8 376.8,623.4 377.0,620.7 377.2,618.4 377.5,616.8 377.8,615.8 378.0,615.5 378.2,616.0 378.5,617.3 378.8,619.6 379.0,622.6 379.2,626.4 379.5,630.9 379.8,635.9 380.0,641.3 380.2,647.0 380.5,652.8 380.8,658.6 381.0,664.3 381.2,669.7 381.5,674.7 381.8,679.2 382.0,683.0 382.2,686.0 382.5,688.3 382.8,689.6 383.0,690.1 383.3,689.7 383.5,688.5 383.8,686.6 384.0,683.9 384.3,680.5 384.5,676.6 384.8,672.2 385.0,667.4 385.3,662.3 385.5,657.0 385.8,651.6 386.0,646.3 386.3,641.2 386.5,636.4 386.8,632.0 387.0,628.1 387.3,624.7 387.5,622.0 387.8,620.1 388.0,618.9 388.3,618.5 388.6,618.9 388.8,620.1 389.1,622.0 389.3,624.6 389.6,627.8 389.8,631.6 390.1,635.9 390.3,640.5 390.6,645.3 390.9,650.3 391.1,655.3 391.4,660.1 391.6,664.7 391.9,669.0 392.1,672.8 392.4,676.0 392.6,678.6 392.9,680.5 393.1,681.7 393.4,682.1 393.6,681.8 393.9,680.7 394.1,679.0 394.4,676.7 394.6,673.9 394.9,670.5 395.1,666.7 395.4,662.6 395.6,658.4 395.9,654.0 396.1,649.5 396.4,645.3 396.6,641.2 396.9,637.4 397.1,634.0 397.4,631.2 397.6,628.9 397.9,627.2 398.1,626.1 398.4,625.8 398.7,626.1 398.9,627.0 399.2,628.4 399.4,630.4 399.7,632.8 399.9,635.7 400.2,639.0 400.4,642.6 400.7,646.3 400.9,650.2 401.2,654.2 401.4,658.1 401.7,661.8 401.9,665.4 402.2,668.7 402.4,671.6 402.7,674.0 402.9,676.0 403.2,677.4 403.4,678.3 403.7,678.6 404.0,678.2 404.2,677.2 404.5,675.5 404.7,673.1 405.0,670.2 405.2,666.9 405.5,663.1 405.7,659.2 406.0,655.1 406.3,651.0 406.5,647.1 406.8,643.4 407.0,640.0 407.3,637.1 407.5,634.7 407.8,633.0 408.0,632.0 408.3,631.6 408.6,631.8 408.8,632.4 409.1,633.4 409.3,634.8 409.6,636.5 409.8,638.5 410.1,640.8 410.3,643.4 410.6,646.1 410.8,649.0 411.1,651.9 411.3,654.9 411.6,657.8 411.8,660.7 412.1,663.4 412.3,666.0 412.6,668.3 412.8,670.3 413.1,672.0 413.3,673.4 413.6,674.4 413.8,675.0 414.1,675.2 414.4,674.9 414.6,674.0 414.9,672.5 415.1,670.6 415.4,668.1 415.6,665.3 415.9,662.1 416.1,658.8 416.4,655.4 416.6,651.9 416.9,648.6 417.1,645.4 417.4,642.6 417.6,640.1 417.9,638.2 418.1,636.7 418.4,635.8 418.6,635.5 418.9,635.7 419.1,636.1 419.4,636.9 419.6,638.0 419.9,639.3 420.1,640.9 420.4,642.7 420.6,644.7 420.9,646.8 421.1,649.0 421.4,651.3 421.6,653.7 421.9,656.0 422.1,658.2 422.4,660.3 422.6,662.3 422.9,664.1 423.1,665.7 423.4,667.0 423.6,668.1 423.9,668.9 424.1,669.3 424.4,669.5 424.6,669.3 424.9,668.7 425.1,667.7 425.4,666.4 425.6,664.8 425.9,662.9 426.1,660.7 426.4,658.4 426.6,655.9 426.9,653.4 427.1,650.9 427.4,648.4 427.6,646.1 427.9,643.9 428.1,642.0 428.4,640.4 428.6,639.1 428.9,638.1 429.1,637.5 429.4,637.3 429.7,637.4 429.9,637.9 430.2,638.6 430.4,639.6 430.7,640.9 430.9,642.4 431.2,644.1 431.4,646.0 431.7,648.0 431.9,650.1 432.2,652.3 432.4,654.5 432.7,656.7 432.9,658.8 433.2,660.8 433.4,662.7 433.7,664.4 433.9,665.9 434.2,667.2 434.4,668.2 434.7,668.9 434.9,669.4 435.2,669.5 435.5,669.3 435.7,668.9 436.0,668.1 436.2,667.0 436.5,665.7 436.7,664.1 437.0,662.3 437.2,660.4 437.5,658.3 437.7,656.2 438.0,654.0 438.2,651.9 438.5,649.8 438.7,647.9 439.0,646.1 439.2,644.5 439.5,643.2 439.7,642.1 440.0,641.3 440.2,640.9 440.5,640.7 440.8,640.8 441.0,641.1 441.2,641.7 441.5,642.4 441.8,643.4 442.0,644.5 442.2,645.7 442.5,647.1 442.8,648.6 443.0,650.1 443.2,651.6 443.5,653.2 443.8,654.7 444.0,656.2 444.2,657.6 444.5,658.8 444.8,659.9 445.0,660.9 445.2,661.6 445.5,662.2 445.8,662.5 446.0,662.6 446.2,662.6 446.5,662.7 446.8,662.7 447.0,662.8 447.2,662.9 447.5,663.0 447.8,663.2 448.0,663.3 448.2,663.4 448.5,663.6 448.8,663.7 449.0,663.8 449.2,663.9 449.5,663.9 449.8,664.0 450.0,664.0" fill="none" stroke="#222" stroke-width="2.5" stroke-linejoin="round"/>
<polyline points="307.0,629.0 307.3,629.5 307.5,631.1 307.8,633.6 308.0,636.9 308.3,641.0 308.5,645.7 308.8,650.8 309.1,656.1 309.3,661.4 309.6,666.5 309.8,671.2 310.1,675.3 310.3,678.6 310.6,681.1 310.8,682.7 311.1,683.2 311.4,682.9 311.6,681.8 311.9,680.2 312.1,677.8 312.4,675.0 312.6,671.5 312.9,667.6 313.1,663.4 313.4,658.8 313.6,653.9 313.9,649.0 314.1,643.9 314.4,639.0 314.6,634.1 314.9,629.5 315.1,625.3 315.4,621.4 315.6,617.9 315.9,615.1 316.1,612.7 316.4,611.1 316.6,610.0 316.9,609.7 317.1,610.1 317.4,611.4 317.6,613.5 317.9,616.4 318.1,619.9 318.4,624.2 318.6,629.0 318.9,634.2 319.1,639.8 319.4,645.7 319.6,651.6 319.9,657.6 320.1,663.5 320.4,669.1 320.6,674.3 320.9,679.1 321.1,683.4 321.4,686.9 321.6,689.8 321.9,691.9 322.1,693.2 322.4,693.6 322.7,693.3 322.9,692.4 323.2,690.9 323.4,688.9 323.7,686.4 323.9,683.4 324.2,680.0 324.4,676.2 324.7,672.2 324.9,668.0 325.2,663.6 325.4,659.3 325.7,654.9 325.9,650.7 326.2,646.7 326.4,642.9 326.7,639.5 326.9,636.5 327.2,634.0 327.4,632.0 327.7,630.5 327.9,629.6 328.2,629.3 328.5,629.5 328.7,630.1 329.0,631.1 329.2,632.5 329.5,634.2 329.7,636.2 330.0,638.5 330.2,641.1 330.5,643.7 330.7,646.5 331.0,649.4 331.3,652.3 331.5,655.1 331.8,657.7 332.0,660.3 332.3,662.6 332.5,664.6 332.8,666.3 333.0,667.7 333.3,668.7 333.5,669.3 333.8,669.5 334.1,669.4 334.3,669.0 334.6,668.3 334.8,667.4 335.1,666.3 335.3,664.9 335.6,663.4 335.8,661.7 336.1,659.9 336.3,658.0 336.6,656.1 336.8,654.1 337.1,652.2 337.3,650.3 337.6,648.5 337.8,646.8 338.1,645.3 338.3,643.9 338.6,642.8 338.8,641.9 339.1,641.2 339.3,640.8 339.6,640.7 339.9,640.8 340.1,641.2 340.4,641.8 340.6,642.6 340.9,643.7 341.1,644.9 341.4,646.3 341.6,647.8 341.9,649.4 342.1,651.1 342.4,652.8 342.7,654.5 342.9,656.2 343.2,657.8 343.4,659.3 343.7,660.7 343.9,661.9 344.2,663.0 344.4,663.8 344.7,664.4 344.9,664.8 345.2,664.9 345.5,664.8 345.7,664.4 346.0,663.8 346.2,663.0 346.5,662.0 346.7,660.8 347.0,659.4 347.3,658.0 347.5,656.4 347.8,654.8 348.0,653.1 348.3,651.5 348.5,649.9 348.8,648.5 349.1,647.1 349.3,645.9 349.6,644.9 349.8,644.1 350.1,643.5 350.3,643.1 350.6,643.0 350.9,643.1 351.1,643.4 351.4,643.8 351.6,644.4 351.9,645.2 352.1,646.1 352.4,647.1 352.6,648.3 352.9,649.5 353.1,650.8 353.4,652.1 353.6,653.5 353.9,654.8 354.1,656.1 354.4,657.3 354.6,658.5 354.9,659.5 355.1,660.4 355.4,661.2 355.6,661.8 355.9,662.2 356.1,662.5 356.4,662.6 356.7,662.5 356.9,662.3 357.2,662.0 357.4,661.5 357.7,660.9 357.9,660.2 358.2,659.4 358.4,658.6 358.7,657.6 358.9,656.7 359.2,655.7 359.5,654.7 359.7,653.8 360.0,652.8 360.2,652.0 360.5,651.2 360.7,650.5 361.0,649.9 361.2,649.4 361.5,649.1 361.7,648.9 362.0,648.8 362.2,648.8 362.5,649.0 362.8,649.2 363.0,649.6 363.2,650.0 363.5,650.4 363.8,651.0 364.0,651.6 364.2,652.2 364.5,652.8 364.8,653.4 365.0,654.0 365.2,654.6 365.5,655.2 365.8,655.6 366.0,656.0 366.2,656.4 366.5,656.6 366.8,656.8 367.0,656.8 367.3,656.8 367.5,656.7 367.8,656.5 368.0,656.3 368.3,656.0 368.6,655.6 368.8,655.2 369.1,654.8 369.3,654.4 369.6,653.9 369.9,653.4 370.1,652.9 370.4,652.4 370.6,652.0 370.9,651.6 371.1,651.2 371.4,650.8 371.7,650.5 371.9,650.3 372.2,650.1 372.4,650.0 372.7,650.0 373.0,650.0 373.2,650.1 373.5,650.3 373.7,650.5 374.0,650.7 374.3,651.0 374.5,651.3 374.8,651.7 375.0,652.0 375.3,652.4 375.5,652.9 375.8,653.3 376.1,653.7 376.3,654.0 376.6,654.4 376.8,654.7 377.1,655.0 377.4,655.2 377.6,655.4 377.9,655.6 378.1,655.7 378.4,655.7 378.7,655.7 378.9,655.6 379.2,655.5 379.4,655.3 379.7,655.1 379.9,654.8 380.2,654.6 380.4,654.2 380.7,653.9 380.9,653.6 381.2,653.2 381.4,652.9 381.7,652.6 381.9,652.2 382.2,652.0 382.4,651.7 382.7,651.5 382.9,651.3 383.2,651.2 383.4,651.1 383.7,651.1 383.9,651.1 384.2,651.2 384.4,651.3 384.7,651.5 384.9,651.7 385.2,651.9 385.4,652.2 385.7,652.4 385.9,652.8 386.2,653.1 386.4,653.4 386.7,653.7 386.9,654.0 387.2,654.4 387.4,654.6 387.7,654.9 387.9,655.1 388.2,655.3 388.4,655.5 388.7,655.6 388.9,655.7 389.2,655.7 389.5,655.7 389.7,655.6 390.0,655.4 390.2,655.2 390.5,654.9 390.7,654.6 391.0,654.3 391.2,653.9 391.5,653.5 391.7,653.1 392.0,652.6 392.2,652.2 392.5,651.8 392.7,651.4 393.0,651.1 393.2,650.8 393.5,650.5 393.7,650.3 394.0,650.1 394.2,650.0 394.5,650.0 394.8,650.0 395.0,650.1 395.3,650.2 395.5,650.4 395.8,650.6 396.0,650.8 396.3,651.1 396.5,651.4 396.8,651.7 397.0,652.1 397.3,652.4 397.5,652.8 397.8,653.1 398.0,653.4 398.3,653.7 398.5,653.9 398.8,654.1 399.0,654.3 399.3,654.4 399.5,654.5 399.8,654.5 400.1,654.4 400.3,654.0 400.6,653.5 400.8,652.8 401.1,652.1 401.3,651.2 401.6,650.5 401.8,649.8 402.1,649.3 402.3,648.9 402.6,648.8 402.9,649.0 403.1,649.5 403.4,650.4 403.6,651.5 403.9,652.9 404.2,654.3 404.4,655.9 404.7,657.3 405.0,658.7 405.2,659.8 405.5,660.7 405.7,661.2 406.0,661.4" fill="none" stroke="#f00" stroke-width="4.2" stroke-linejoin="round" stroke-linecap="round"/>
<rect x="752" y="556" width="166" height="168" fill="#fff"/>
<line x1="751.4" y1="560.7" x2="751.4" y2="724" stroke="#000" stroke-width="1.3" />
<line x1="751.4" y1="724" x2="917" y2="724" stroke="#000" stroke-width="1.3" />
<line x1="911" y1="565" x2="911" y2="724" stroke="#000" stroke-width="1.3" />
<line x1="745.2" y1="572.6" x2="751.4" y2="572.6" stroke="#000" stroke-width="1.3" />
<text x="700.44" y="579.5" font-size="23.5" textLength="32.78" lengthAdjust="spacingAndGlyphs">1.0</text>
<line x1="745.2" y1="633.1" x2="751.4" y2="633.1" stroke="#000" stroke-width="1.3" />
<text x="696.77" y="640.0" font-size="23.5" textLength="36.85" lengthAdjust="spacingAndGlyphs">0.5</text>
<line x1="745.2" y1="693.6" x2="751.4" y2="693.6" stroke="#000" stroke-width="1.3" />
<text x="718.04" y="700.5" font-size="23.5" textLength="15.22" lengthAdjust="spacingAndGlyphs">0</text>
<line x1="783.5" y1="724" x2="783.5" y2="729.5" stroke="#000" stroke-width="1.3" />
<text x="775.79" y="757.1" font-size="23.5" textLength="15.22" lengthAdjust="spacingAndGlyphs">0</text>
<line x1="847.2" y1="724" x2="847.2" y2="729.5" stroke="#000" stroke-width="1.3" />
<text x="828.55" y="757.1" font-size="23.5" textLength="37.59" lengthAdjust="spacingAndGlyphs">0.2</text>
<line x1="911" y1="724" x2="911" y2="729.5" stroke="#000" stroke-width="1.3" />
<text x="891.89" y="757.1" font-size="23.5" textLength="37.83" lengthAdjust="spacingAndGlyphs">0.4</text>
<text x="834.3" y="797.7" font-size="28" text-anchor="middle" textLength="116" lengthAdjust="spacingAndGlyphs" fill="#000">Time (µs)</text>
<text x="677" y="641.4" font-size="28" text-anchor="middle" transform="rotate(-90 677 641.4)" textLength="109" lengthAdjust="spacingAndGlyphs" fill="#000">Intensity</text>
<line x1="782.6" y1="564" x2="782.6" y2="724" stroke="#000" stroke-width="1.6" stroke-dasharray="9 4.5" stroke-dashoffset="4"/>
<line x1="784.0" y1="564" x2="784.0" y2="724" stroke="#f00" stroke-width="2.2" stroke-dasharray="9 4.5" stroke-dashoffset="0"/>
<polyline points="783.5,669.7 783.7,697.6 783.9,701.3 784.1,716.7 784.3,682.0 784.5,702.6 784.6,698.7 784.8,702.5 785.0,700.5 785.2,681.4 785.4,699.3 785.6,688.6 785.8,698.9 786.0,694.8 786.2,683.0 786.4,683.1 786.6,704.0 786.8,690.4 786.9,701.5 787.1,682.5 787.3,697.8 787.5,701.4 787.7,681.3 787.9,697.3 788.1,689.3 788.3,682.6 788.5,697.0 788.7,694.5 788.9,684.0 789.0,664.8 789.2,684.1 789.4,682.4 789.6,690.5 789.8,691.3 790.0,673.7 790.2,699.4 790.4,699.0 790.6,673.9 790.8,699.8 791.0,705.3 791.1,685.4 791.3,679.4 791.5,670.6 791.7,665.4 791.9,716.8 792.1,693.1 792.3,694.5 792.5,686.5 792.7,700.6 792.9,690.4 793.1,687.6 793.3,688.5 793.4,700.6 793.6,688.0 793.8,700.9 794.0,700.6 794.2,693.8 794.4,681.6 794.6,714.0 794.8,691.5 795.0,674.9 795.2,689.1 795.4,697.0 795.5,687.9 795.7,672.6 795.9,692.8 796.1,699.0 796.3,682.0 796.5,694.0 796.7,699.0 796.9,681.4 797.1,700.7 797.3,694.5 797.5,675.5 797.7,689.2 797.8,676.3 798.0,711.7 798.2,708.5 798.4,700.1 798.6,692.6 798.8,713.3 799.0,688.6 799.2,697.5 799.4,697.2 799.6,690.8 799.8,694.1 799.9,705.2 800.1,693.9 800.3,705.1 800.5,676.0 800.7,696.6 800.9,694.3 801.1,698.9 801.3,690.9 801.5,688.6 801.7,692.8 801.9,703.4 802.1,678.3 802.2,691.6 802.4,713.1 802.6,717.3 802.8,704.4 803.0,704.9 803.2,710.7 803.4,702.6 803.6,687.6 803.8,676.9 804.0,688.8 804.2,687.5 804.3,678.2 804.5,666.1 804.7,678.1 804.9,684.4 805.1,693.0 805.3,703.1 805.5,686.5 805.7,677.5 805.9,687.8 806.1,697.7 806.3,684.6 806.5,692.4 806.6,698.3 806.8,714.4 807.0,685.1 807.2,699.1 807.4,678.0 807.6,698.8 807.8,690.4 808.0,697.9 808.2,670.9 808.4,675.6 808.6,691.5 808.7,674.7 808.9,705.8 809.1,683.8 809.3,697.8 809.5,692.9 809.7,696.6 809.9,684.4 810.1,712.1 810.3,696.7 810.5,675.3 810.7,717.6 810.8,693.7 811.0,632.4 811.2,648.8 811.4,614.0 811.6,625.1 811.8,605.5 812.0,642.8 812.2,617.6 812.4,604.3 812.6,645.1 812.8,616.9 813.0,617.0 813.1,623.5 813.3,610.4 813.5,619.5 813.7,636.4 813.9,637.8 814.1,631.2 814.3,611.1 814.5,632.5 814.7,621.3 814.9,634.0 815.1,625.7 815.2,627.5 815.4,620.1 815.6,613.7 815.8,641.5 816.0,649.7 816.2,637.9 816.4,638.0 816.6,635.0 816.8,627.1 817.0,644.2 817.2,639.9 817.4,640.4 817.5,628.2 817.7,646.6 817.9,628.2 818.1,620.1 818.3,645.9 818.5,627.2 818.7,637.9 818.9,645.6 819.1,621.8 819.3,631.3 819.5,649.9 819.6,640.2 819.8,655.1 820.0,663.9 820.2,635.9 820.4,648.6 820.6,629.9 820.8,647.7 821.0,646.9 821.2,651.8 821.4,649.0 821.6,660.7 821.8,654.6 821.9,672.8 822.1,674.1 822.3,669.3 822.5,661.1 822.7,655.3 822.9,656.8 823.1,641.4 823.3,626.7 823.5,684.3 823.7,639.5 823.9,646.0 824.0,664.1 824.2,655.9 824.4,680.9 824.6,661.2 824.8,640.6 825.0,673.3 825.2,666.7 825.4,659.0 825.6,652.6 825.8,660.4 826.0,667.4 826.1,654.0 826.3,668.8 826.5,634.3 826.7,648.1 826.9,661.7 827.1,672.8 827.3,670.3 827.5,672.6 827.7,668.2 827.9,659.7 828.1,680.1 828.3,663.4 828.4,665.5 828.6,677.1 828.8,651.3 829.0,661.0 829.2,663.1 829.4,673.8 829.6,676.0 829.8,667.3 830.0,685.1 830.2,664.1 830.4,681.8 830.5,669.2 830.7,661.4 830.9,672.6 831.1,677.3 831.3,678.8 831.5,668.7 831.7,683.6 831.9,671.4 832.1,659.8 832.3,693.3 832.5,680.9 832.7,668.8 832.8,685.1 833.0,684.6 833.2,687.0 833.4,663.0 833.6,698.1 833.8,675.0 834.0,676.2 834.2,673.9 834.4,683.4 834.6,673.7 834.8,680.8 834.9,685.0 835.1,645.3 835.3,663.8 835.5,688.3 835.7,684.1 835.9,671.1 836.1,659.7 836.3,678.7 836.5,668.4 836.7,674.5 836.9,663.4 837.0,683.4 837.2,686.2 837.4,674.3 837.6,674.5 837.8,677.3 838.0,663.8 838.2,670.1 838.4,676.9 838.6,691.9 838.8,670.6 839.0,668.7 839.2,686.2 839.3,679.9 839.5,691.8 839.7,677.8 839.9,681.9 840.1,700.0 840.3,679.6 840.5,683.5 840.7,683.8 840.9,668.0 841.1,674.5 841.3,670.1 841.4,684.1 841.6,664.9 841.8,689.5 842.0,672.2 842.2,698.0 842.4,678.4 842.6,692.8 842.8,697.9 843.0,673.6 843.2,679.2 843.4,675.7 843.6,681.2 843.7,678.7 843.9,682.3 844.1,683.8 844.3,680.7 844.5,655.6 844.7,693.9 844.9,699.6 845.1,693.0 845.3,690.2 845.5,676.3 845.7,669.9 845.8,669.4 846.0,685.2 846.2,674.4 846.4,661.3 846.6,675.4 846.8,667.7 847.0,694.0 847.2,672.7 847.4,673.7 847.6,697.2 847.8,682.7 848.0,676.0 848.1,693.6 848.3,673.0 848.5,672.3 848.7,680.1 848.9,684.9 849.1,686.0 849.3,679.5 849.5,671.0 849.7,699.8 849.9,682.0 850.1,681.4 850.2,694.4 850.4,699.4 850.6,687.1 850.8,704.2 851.0,682.3 851.2,688.2 851.4,697.8 851.6,685.0 851.8,695.1 852.0,693.7 852.2,671.9 852.4,694.5 852.5,715.2 852.7,682.3 852.9,697.9 853.1,696.3 853.3,668.1 853.5,686.9 853.7,676.7 853.9,702.3 854.1,698.4 854.3,696.1 854.5,678.1 854.6,694.4 854.8,709.0 855.0,678.1 855.2,692.9 855.4,685.9 855.6,678.2 855.8,661.9 856.0,687.5 856.2,668.8 856.4,703.1 856.6,685.3 856.7,683.8 856.9,713.0 857.1,698.8 857.3,695.9 857.5,681.8 857.7,693.2 857.9,692.5 858.1,695.5 858.3,682.4 858.5,688.4 858.7,688.7 858.9,690.5 859.0,679.9 859.2,696.0 859.4,688.1 859.6,687.6 859.8,683.4 860.0,676.1 860.2,683.8 860.4,703.2 860.6,676.2 860.8,673.7 861.0,673.0 861.1,677.6 861.3,705.6 861.5,689.0 861.7,678.4 861.9,678.1 862.1,688.6 862.3,686.0 862.5,700.1 862.7,682.9 862.9,711.5 863.1,690.1 863.3,676.5 863.4,701.4 863.6,672.9 863.8,665.0 864.0,681.6 864.2,693.6 864.4,693.2 864.6,701.5 864.8,679.2 865.0,700.4 865.2,685.5 865.4,700.3 865.5,681.5 865.7,703.6 865.9,689.2 866.1,696.1 866.3,676.1 866.5,692.5 866.7,689.8 866.9,674.9 867.1,700.8 867.3,702.3 867.5,688.9 867.6,700.0 867.8,669.0 868.0,686.7 868.2,685.4 868.4,692.2 868.6,724.7 868.8,673.8 869.0,689.9 869.2,712.0 869.4,701.1 869.6,689.0 869.8,674.5 869.9,684.9 870.1,684.6 870.3,685.0 870.5,699.2 870.7,696.5 870.9,688.7 871.1,704.4 871.3,688.5 871.5,681.3 871.7,716.3 871.9,691.6 872.0,692.2 872.2,688.0 872.4,668.9 872.6,705.1 872.8,666.8 873.0,681.3 873.2,660.6 873.4,693.5 873.6,685.0 873.8,690.7 874.0,683.5 874.2,699.6 874.3,698.4 874.5,691.3 874.7,682.0 874.9,704.5 875.1,693.3 875.3,696.7 875.5,686.1 875.7,680.0 875.9,706.8 876.1,701.3 876.3,693.7 876.4,701.4 876.6,673.3 876.8,670.2 877.0,681.1 877.2,683.9 877.4,702.6 877.6,701.0 877.8,685.0 878.0,672.8 878.2,694.0 878.4,686.7 878.6,671.4 878.7,670.0 878.9,701.6 879.1,686.9 879.3,681.4 879.5,709.2 879.7,695.7 879.9,688.0 880.1,696.3 880.3,684.2 880.5,694.8 880.7,710.2 880.8,704.9 881.0,715.2 881.2,706.0 881.4,684.0 881.6,687.4 881.8,685.0 882.0,675.8 882.2,704.1 882.4,696.6 882.6,689.4 882.8,671.5 883.0,687.6 883.1,692.5 883.3,687.4 883.5,701.4 883.7,713.7 883.9,685.5 884.1,695.9 884.3,685.8 884.5,704.8 884.7,701.5 884.9,682.3 885.1,688.7 885.2,680.1 885.4,698.9 885.6,690.3 885.8,683.1 886.0,680.7 886.2,691.6 886.4,687.8 886.6,692.1 886.8,692.8 887.0,691.8 887.2,685.9 887.3,706.6 887.5,691.7 887.7,703.1 887.9,691.2 888.1,694.4 888.3,689.5 888.5,694.5 888.7,693.4 888.9,707.8 889.1,675.7 889.3,707.6 889.5,713.7 889.6,688.0 889.8,685.2 890.0,693.1 890.2,695.9 890.4,705.3 890.6,670.7 890.8,711.9 891.0,665.2 891.2,710.4 891.4,704.0 891.6,695.0 891.7,697.3 891.9,686.6 892.1,702.1 892.3,696.2 892.5,710.5 892.7,678.5 892.9,695.7 893.1,700.9 893.3,691.9 893.5,681.6 893.7,687.8 893.9,700.2 894.0,690.1 894.2,687.9 894.4,686.9 894.6,695.3 894.8,683.8 895.0,704.4 895.2,690.1 895.4,701.0 895.6,690.8 895.8,698.2 896.0,683.6 896.1,696.0 896.3,677.7 896.5,702.1 896.7,679.5 896.9,701.1 897.1,719.9 897.3,702.8 897.5,681.3 897.7,689.0 897.9,685.7 898.1,695.8 898.2,687.4 898.4,702.8 898.6,671.4 898.8,672.9 899.0,686.0 899.2,697.8 899.4,698.6 899.6,683.9 899.8,686.9 900.0,701.4 900.2,682.4 900.4,680.9 900.5,684.4 900.7,686.2 900.9,688.0 901.1,690.6 901.3,694.1 901.5,697.6 901.7,676.4 901.9,708.3 902.1,689.2 902.3,680.6 902.5,664.0 902.6,694.4 902.8,674.6 903.0,675.7 903.2,679.4 903.4,669.0 903.6,709.2 903.8,678.7 904.0,691.1 904.2,684.8 904.4,691.4 904.6,699.5 904.8,711.3 904.9,685.0 905.1,692.6 905.3,705.2 905.5,691.4 905.7,702.7 905.9,700.1 906.1,688.0 906.3,681.2 906.5,712.5 906.7,691.3 906.9,683.4 907.0,705.0 907.2,694.1 907.4,686.8 907.6,679.8 907.8,703.8 908.0,709.4 908.2,697.9 908.4,696.6 908.6,691.2 908.8,690.3 909.0,713.2 909.2,682.6 909.3,710.1 909.5,687.0 909.7,685.2 909.9,686.1 910.1,687.5 910.3,686.9 910.5,700.1 910.7,700.6 910.9,666.5 911.1,672.7" fill="none" stroke="#222" stroke-width="0.8" stroke-linejoin="round" marker-start="url(#mcEI)" marker-mid="url(#mcEI)" marker-end="url(#mcEI)" clip-path="url(#clipEI)"/>
<polygon points="810.9,572.6 811.2,576.1 811.5,579.5 811.9,582.8 812.2,586.0 812.5,589.1 812.8,592.2 813.1,595.1 813.5,598.0 813.8,600.7 814.1,603.4 814.4,606.0 814.7,608.6 815.1,611.0 815.4,613.4 815.7,615.8 816.0,618.0 816.3,620.2 816.6,622.3 817.0,624.4 817.3,626.4 817.6,628.4 817.9,630.2 818.2,632.1 818.6,633.9 818.9,635.6 819.2,637.3 819.5,638.9 819.8,640.5 820.2,642.0 820.5,643.5 820.8,645.0 821.1,646.4 821.4,647.8 821.8,649.1 822.1,650.4 822.4,651.6 822.7,652.8 823.0,654.0 823.3,655.2 823.7,656.3 824.0,657.4 824.3,658.4 824.6,659.4 824.9,660.4 825.3,661.4 825.6,662.3 825.9,663.2 826.2,664.1 826.5,665.0 826.9,665.8 827.2,666.6 827.5,667.4 827.8,668.1 828.1,668.9 828.4,669.6 828.8,670.3 829.1,671.0 829.4,671.6 829.7,672.3 830.0,672.9 830.4,673.5 830.7,674.1 831.0,674.6 831.3,675.2 831.6,675.7 832.0,676.2 832.3,676.7 832.6,677.2 832.9,677.7 833.2,678.2 833.5,678.6 833.9,678.9 834.2,679.0 834.5,679.1 834.8,679.2 835.1,679.3 835.5,679.4 835.8,679.4 836.1,679.5 836.4,679.6 836.7,679.7 837.1,679.8 837.4,679.9 837.7,680.0 838.0,680.1 838.3,680.2 838.6,680.3 839.0,680.4 839.3,680.4 839.6,680.5 839.9,680.6 840.2,680.7 840.6,680.8 840.9,680.9 841.2,681.0 841.5,681.1 841.8,681.2 842.1,681.3 842.5,681.3 842.8,681.4 843.1,681.5 843.4,681.6 843.7,681.7 844.1,681.8 844.4,681.9 844.7,682.0 845.0,682.1 845.3,682.2 845.7,682.3 846.0,682.3 846.3,682.4 846.6,682.5 846.9,682.6 847.2,682.7 847.6,682.8 847.9,682.9 848.2,683.0 848.5,683.1 848.8,683.2 849.2,683.3 849.5,683.4 849.8,683.5 850.1,683.6 850.4,683.7 850.8,683.8 851.1,683.9 851.4,684.0 851.7,684.1 852.0,684.2 852.4,684.3 852.7,684.4 853.0,684.5 853.3,684.5 853.6,684.6 853.9,684.7 854.3,684.8 854.6,684.9 854.9,685.0 855.2,685.1 855.5,685.2 855.9,685.3 856.2,685.4 856.5,685.5 856.8,685.6 857.1,685.7 857.5,685.8 857.8,685.9 858.1,686.0 858.4,686.1 858.7,686.2 859.0,686.3 859.4,686.4 859.7,686.5 860.0,686.6 860.3,686.7 860.6,686.8 861.0,686.9 861.3,687.0 861.6,687.1 861.9,687.2 862.2,687.3 862.6,687.4 862.9,687.5 863.2,687.6 863.5,687.6 863.8,687.7 864.1,687.7 864.5,687.8 864.8,687.9 865.1,687.9 865.4,688.0 865.7,688.0 866.1,688.1 866.4,688.2 866.7,688.2 867.0,688.3 867.3,688.3 867.7,688.4 868.0,688.5 868.3,688.5 868.6,688.6 868.9,688.6 869.2,688.7 869.6,688.8 869.9,688.8 870.2,688.9 870.5,688.9 870.8,689.0 871.2,689.1 871.5,689.1 871.8,689.2 872.1,689.2 872.4,689.3 872.8,689.4 873.1,689.4 873.4,689.5 873.7,689.5 874.0,689.6 874.3,689.7 874.7,689.7 875.0,689.8 875.3,689.8 875.6,689.9 875.9,690.0 876.3,690.0 876.6,690.1 876.9,690.2 877.2,690.2 877.5,690.3 877.9,690.3 878.2,690.4 878.5,690.5 878.8,690.5 879.1,690.6 879.4,690.6 879.8,690.7 880.1,690.8 880.4,690.8 880.7,690.9 881.0,690.9 881.4,691.0 881.7,691.1 882.0,691.1 882.3,691.2 882.6,691.2 883.0,691.3 883.3,691.4 883.6,691.4 883.9,691.5 884.2,691.5 884.5,691.6 884.9,691.7 885.2,691.7 885.5,691.8 885.8,691.8 886.1,691.9 886.5,692.0 886.8,692.0 887.1,692.1 887.4,692.1 887.7,692.2 888.1,692.3 888.4,692.3 888.7,692.4 889.0,692.5 889.3,692.5 889.6,692.6 890.0,692.6 890.3,692.7 890.6,692.8 890.9,692.8 891.2,692.9 891.6,692.9 891.9,693.0 892.2,693.1 892.5,693.1 892.8,693.2 893.2,693.2 893.5,693.3 893.8,693.4 894.1,693.4 894.4,693.5 894.7,693.5 895.1,693.5 895.4,693.6 895.7,693.6 896.0,693.6 896.3,693.6 896.7,693.6 897.0,693.6 897.3,693.6 897.6,693.6 897.9,693.6 898.3,693.6 898.6,693.6 898.9,693.6 899.2,693.6 899.5,693.6 899.8,693.6 900.2,693.6 900.5,693.6 900.8,693.6 901.1,693.6 901.4,693.6 901.8,693.6 902.1,693.6 902.4,693.6 902.7,693.6 903.0,693.6 903.4,693.6 903.7,693.6 904.0,693.6 904.3,693.6 904.6,693.6 904.9,693.6 905.3,693.6 905.6,693.6 905.9,693.6 906.2,693.6 906.5,693.6 906.9,693.6 907.2,693.6 907.5,693.6 907.8,693.6 908.1,693.6 908.5,693.6 908.8,693.6 909.1,693.6 909.4,693.6 909.7,693.6 910.0,693.6 910.4,693.6 910.7,693.6 911.0,693.6 911.0,695.7 910.7,695.6 910.4,695.6 910.0,695.5 909.7,695.5 909.4,695.5 909.1,695.4 908.8,695.4 908.5,695.3 908.1,695.3 907.8,695.2 907.5,695.2 907.2,695.2 906.9,695.1 906.5,695.1 906.2,695.0 905.9,695.0 905.6,695.0 905.3,694.9 904.9,694.9 904.6,694.8 904.3,694.8 904.0,694.8 903.7,694.7 903.4,694.7 903.0,694.6 902.7,694.6 902.4,694.5 902.1,694.5 901.8,694.5 901.4,694.4 901.1,694.4 900.8,694.3 900.5,694.3 900.2,694.3 899.8,694.2 899.5,694.2 899.2,694.1 898.9,694.1 898.6,694.1 898.3,694.0 897.9,694.0 897.6,693.9 897.3,693.9 897.0,693.8 896.7,693.8 896.3,693.8 896.0,693.7 895.7,693.7 895.4,693.6 895.1,693.6 894.7,693.5 894.4,693.5 894.1,693.4 893.8,693.4 893.5,693.3 893.2,693.2 892.8,693.2 892.5,693.1 892.2,693.1 891.9,693.0 891.6,692.9 891.2,692.9 890.9,692.8 890.6,692.8 890.3,692.7 890.0,692.6 889.6,692.6 889.3,692.5 889.0,692.5 888.7,692.4 888.4,692.3 888.1,692.3 887.7,692.2 887.4,692.1 887.1,692.1 886.8,692.0 886.5,692.0 886.1,691.9 885.8,691.8 885.5,691.8 885.2,691.7 884.9,691.7 884.5,691.6 884.2,691.5 883.9,691.5 883.6,691.4 883.3,691.4 883.0,691.3 882.6,691.2 882.3,691.2 882.0,691.1 881.7,691.1 881.4,691.0 881.0,690.9 880.7,690.9 880.4,690.8 880.1,690.8 879.8,690.7 879.4,690.6 879.1,690.6 878.8,690.5 878.5,690.5 878.2,690.4 877.9,690.3 877.5,690.3 877.2,690.2 876.9,690.2 876.6,690.1 876.3,690.0 875.9,690.0 875.6,689.9 875.3,689.8 875.0,689.8 874.7,689.7 874.3,689.7 874.0,689.6 873.7,689.5 873.4,689.5 873.1,689.4 872.8,689.4 872.4,689.3 872.1,689.2 871.8,689.2 871.5,689.1 871.2,689.1 870.8,689.0 870.5,688.9 870.2,688.9 869.9,688.8 869.6,688.8 869.2,688.7 868.9,688.6 868.6,688.6 868.3,688.5 868.0,688.5 867.7,688.4 867.3,688.3 867.0,688.3 866.7,688.2 866.4,688.2 866.1,688.1 865.7,688.0 865.4,688.0 865.1,687.9 864.8,687.9 864.5,687.8 864.1,687.7 863.8,687.7 863.5,687.6 863.2,687.6 862.9,687.5 862.6,687.4 862.2,687.3 861.9,687.2 861.6,687.1 861.3,687.0 861.0,686.9 860.6,686.8 860.3,686.7 860.0,686.6 859.7,686.5 859.4,686.4 859.0,686.3 858.7,686.2 858.4,686.1 858.1,686.0 857.8,685.9 857.5,685.8 857.1,685.7 856.8,685.6 856.5,685.5 856.2,685.4 855.9,685.3 855.5,685.2 855.2,685.1 854.9,685.0 854.6,684.9 854.3,684.8 853.9,684.7 853.6,684.6 853.3,684.5 853.0,684.5 852.7,684.4 852.4,684.3 852.0,684.2 851.7,684.1 851.4,684.0 851.1,683.9 850.8,683.8 850.4,683.7 850.1,683.6 849.8,683.5 849.5,683.4 849.2,683.3 848.8,683.2 848.5,683.1 848.2,683.0 847.9,682.9 847.6,682.8 847.2,682.7 846.9,682.6 846.6,682.5 846.3,682.4 846.0,682.3 845.7,682.3 845.3,682.2 845.0,682.1 844.7,682.0 844.4,681.9 844.1,681.8 843.7,681.7 843.4,681.6 843.1,681.5 842.8,681.4 842.5,681.3 842.1,681.3 841.8,681.2 841.5,681.1 841.2,681.0 840.9,680.9 840.6,680.8 840.2,680.7 839.9,680.6 839.6,680.5 839.3,680.4 839.0,680.4 838.6,680.3 838.3,680.2 838.0,680.1 837.7,680.0 837.4,679.9 837.1,679.8 836.7,679.7 836.4,679.6 836.1,679.5 835.8,679.4 835.5,679.4 835.1,679.3 834.8,679.2 834.5,679.1 834.2,679.0 833.9,678.9 833.5,678.8 833.2,678.8 832.9,678.7 832.6,678.6 832.3,678.5 832.0,678.4 831.6,678.4 831.3,678.3 831.0,678.2 830.7,678.1 830.4,678.0 830.0,678.0 829.7,677.9 829.4,677.8 829.1,677.7 828.8,677.6 828.4,677.5 828.1,677.5 827.8,677.4 827.5,677.3 827.2,677.2 826.9,677.1 826.5,677.1 826.2,677.0 825.9,676.9 825.6,676.8 825.3,676.7 824.9,676.7 824.6,675.5 824.3,675.5 824.0,675.5 823.7,675.5 823.3,675.5 823.0,675.5 822.7,675.5 822.4,675.5 822.1,675.5 821.8,675.5 821.4,675.5 821.1,675.5 820.8,675.5 820.5,675.5 820.2,675.5 819.8,675.5 819.5,675.5 819.2,675.5 818.9,675.5 818.6,675.5 818.2,675.5 817.9,675.5 817.6,675.5 817.3,675.5 817.0,675.5 816.6,675.5 816.3,675.5 816.0,675.5 815.7,675.5 815.4,675.5 815.1,675.5 814.7,675.5 814.4,675.5 814.1,675.5 813.8,675.5 813.5,675.5 813.1,675.5 812.8,675.5 812.5,675.5 812.2,675.5 811.9,675.5 811.5,675.5 811.2,675.5 810.9,675.5" fill="#f00" stroke="#f00" stroke-width="1.5" stroke-linejoin="round"/>
<polyline points="783.5,694.8 810.9,694.8 810.9,669.4 811.2,669.7 811.5,669.9 811.9,670.2 812.2,670.4 812.5,670.7 812.8,671.0 813.1,671.2 813.5,671.5 813.8,671.7 814.1,672.0 814.4,672.3 814.7,672.5 815.1,672.8 815.4,673.0 815.7,673.2 816.0,673.3 816.3,673.4 816.6,673.5 817.0,673.6 817.3,673.8 817.6,673.9 817.9,674.0 818.2,674.1 818.6,674.2 818.9,674.4 819.2,674.5 819.5,674.6 819.8,674.7 820.2,674.8 820.5,675.0 820.8,675.1 821.1,675.2 821.4,675.3 821.8,675.5 822.1,675.6 822.4,675.7 822.7,675.8 823.0,675.9 823.3,676.1 823.7,676.2 824.0,676.3 824.3,676.4 824.6,676.5 824.9,676.7 825.3,676.7 825.6,676.8 825.9,676.9 826.2,677.0 826.5,677.1 826.9,677.1 827.2,677.2 827.5,677.3 827.8,677.4 828.1,677.5 828.4,677.5 828.8,677.6 829.1,677.7 829.4,677.8 829.7,677.9 830.0,678.0 830.4,678.0 830.7,678.1 831.0,678.2 831.3,678.3 831.6,678.4 832.0,678.4 832.3,678.5 832.6,678.6 832.9,678.7 833.2,678.8 833.5,678.8 833.9,678.9 834.2,679.0 834.5,679.1 834.8,679.2 835.1,679.3 835.5,679.4 835.8,679.4 836.1,679.5 836.4,679.6 836.7,679.7 837.1,679.8 837.4,679.9 837.7,680.0 838.0,680.1 838.3,680.2 838.6,680.3 839.0,680.4 839.3,680.4 839.6,680.5 839.9,680.6 840.2,680.7 840.6,680.8 840.9,680.9 841.2,681.0 841.5,681.1 841.8,681.2 842.1,681.3 842.5,681.3 842.8,681.4 843.1,681.5 843.4,681.6 843.7,681.7 844.1,681.8 844.4,681.9 844.7,682.0 845.0,682.1 845.3,682.2 845.7,682.3 846.0,682.3 846.3,682.4 846.6,682.5 846.9,682.6 847.2,682.7 847.6,682.8 847.9,682.9 848.2,683.0 848.5,683.1 848.8,683.2 849.2,683.3 849.5,683.4 849.8,683.5 850.1,683.6 850.4,683.7 850.8,683.8 851.1,683.9 851.4,684.0 851.7,684.1 852.0,684.2 852.4,684.3 852.7,684.4 853.0,684.5 853.3,684.5 853.6,684.6 853.9,684.7 854.3,684.8 854.6,684.9 854.9,685.0 855.2,685.1 855.5,685.2 855.9,685.3 856.2,685.4 856.5,685.5 856.8,685.6 857.1,685.7 857.5,685.8 857.8,685.9 858.1,686.0 858.4,686.1 858.7,686.2 859.0,686.3 859.4,686.4 859.7,686.5 860.0,686.6 860.3,686.7 860.6,686.8 861.0,686.9 861.3,687.0 861.6,687.1 861.9,687.2 862.2,687.3 862.6,687.4 862.9,687.5 863.2,687.6 863.5,687.6 863.8,687.7 864.1,687.7 864.5,687.8 864.8,687.9 865.1,687.9 865.4,688.0 865.7,688.0 866.1,688.1 866.4,688.2 866.7,688.2 867.0,688.3 867.3,688.3 867.7,688.4 868.0,688.5 868.3,688.5 868.6,688.6 868.9,688.6 869.2,688.7 869.6,688.8 869.9,688.8 870.2,688.9 870.5,688.9 870.8,689.0 871.2,689.1 871.5,689.1 871.8,689.2 872.1,689.2 872.4,689.3 872.8,689.4 873.1,689.4 873.4,689.5 873.7,689.5 874.0,689.6 874.3,689.7 874.7,689.7 875.0,689.8 875.3,689.8 875.6,689.9 875.9,690.0 876.3,690.0 876.6,690.1 876.9,690.2 877.2,690.2 877.5,690.3 877.9,690.3 878.2,690.4 878.5,690.5 878.8,690.5 879.1,690.6 879.4,690.6 879.8,690.7 880.1,690.8 880.4,690.8 880.7,690.9 881.0,690.9 881.4,691.0 881.7,691.1 882.0,691.1 882.3,691.2 882.6,691.2 883.0,691.3 883.3,691.4 883.6,691.4 883.9,691.5 884.2,691.5 884.5,691.6 884.9,691.7 885.2,691.7 885.5,691.8 885.8,691.8 886.1,691.9 886.5,692.0 886.8,692.0 887.1,692.1 887.4,692.1 887.7,692.2 888.1,692.3 888.4,692.3 888.7,692.4 889.0,692.5 889.3,692.5 889.6,692.6 890.0,692.6 890.3,692.7 890.6,692.8 890.9,692.8 891.2,692.9 891.6,692.9 891.9,693.0 892.2,693.1 892.5,693.1 892.8,693.2 893.2,693.2 893.5,693.3 893.8,693.4 894.1,693.4 894.4,693.5 894.7,693.5 895.1,693.6 895.4,693.6 895.7,693.7 896.0,693.7 896.3,693.8 896.7,693.8 897.0,693.8 897.3,693.9 897.6,693.9 897.9,694.0 898.3,694.0 898.6,694.1 898.9,694.1 899.2,694.1 899.5,694.2 899.8,694.2 900.2,694.3 900.5,694.3 900.8,694.3 901.1,694.4 901.4,694.4 901.8,694.5 902.1,694.5 902.4,694.5 902.7,694.6 903.0,694.6 903.4,694.7 903.7,694.7 904.0,694.8 904.3,694.8 904.6,694.8 904.9,694.9 905.3,694.9 905.6,695.0 905.9,695.0 906.2,695.0 906.5,695.1 906.9,695.1 907.2,695.2 907.5,695.2 907.8,695.2 908.1,695.3 908.5,695.3 908.8,695.4 909.1,695.4 909.4,695.5 909.7,695.5 910.0,695.5 910.4,695.6 910.7,695.6 911.0,695.7" fill="none" stroke="#f00" stroke-width="5" stroke-linejoin="round"/>
<line x1="810.9" y1="694.8" x2="810.9" y2="572.6" stroke="#f00" stroke-width="2.5" />
</svg></body></html>
